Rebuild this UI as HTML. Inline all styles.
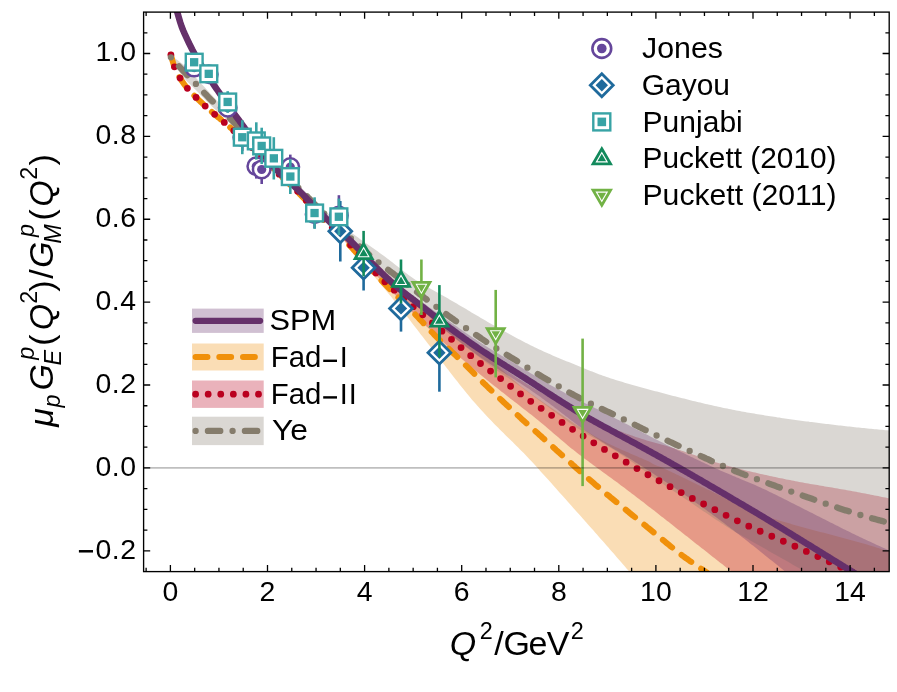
<!DOCTYPE html>
<html><head><meta charset="utf-8"><title>GE/GM ratio</title>
<style>html,body{margin:0;padding:0;background:#fff}svg{display:block;will-change:transform}text{font-family:"Liberation Sans",sans-serif;fill:#000}</style></head><body>
<svg width="897" height="692" viewBox="0 0 897 692">
<rect width="897" height="692" fill="#fff"/>
<defs><clipPath id="cp"><rect x="143.6" y="12.1" width="745.6" height="559.5"/></clipPath></defs>
<g clip-path="url(#cp)">
<path d="M340.0,236.0 L341.8,237.4 L343.7,238.8 L345.5,240.3 L347.3,241.8 L349.2,243.4 L351.0,245.0 L352.9,246.7 L354.7,248.5 L356.5,250.4 L358.4,252.3 L360.2,254.2 L362.0,256.1 L363.9,258.1 L365.7,260.1 L367.6,262.1 L369.4,264.0 L371.2,266.0 L373.1,267.9 L374.9,269.7 L376.7,271.5 L378.6,273.3 L380.4,275.0 L382.2,276.7 L384.1,278.2 L385.9,279.8 L387.8,281.3 L389.6,282.7 L391.4,284.1 L393.3,285.5 L395.1,286.8 L396.9,288.2 L398.8,289.5 L400.6,290.8 L402.5,292.1 L404.3,293.4 L406.1,294.7 L408.0,296.1 L409.8,297.5 L411.6,298.8 L413.5,300.3 L415.3,301.7 L417.1,303.2 L419.0,304.7 L420.8,306.2 L422.7,307.8 L424.5,309.3 L426.3,310.9 L428.2,312.5 L430.0,314.0 L431.8,315.5 L433.7,317.0 L435.5,318.4 L437.3,319.7 L439.2,321.0 L441.0,322.3 L442.9,323.5 L444.7,324.7 L446.5,325.8 L448.4,326.9 L450.2,328.0 L452.0,329.1 L453.9,330.3 L455.7,331.4 L457.6,332.6 L459.4,333.9 L461.2,335.1 L463.1,336.5 L464.9,337.8 L466.7,339.2 L468.6,340.6 L470.4,342.1 L472.2,343.6 L474.1,345.1 L475.9,346.7 L477.8,348.3 L479.6,349.8 L481.4,351.4 L483.3,353.0 L485.1,354.7 L486.9,356.3 L488.8,357.9 L490.6,359.5 L492.5,361.2 L494.3,362.8 L496.1,364.4 L498.0,366.1 L499.8,367.7 L501.6,369.4 L503.5,371.0 L505.3,372.7 L507.1,374.3 L509.0,376.0 L510.8,377.6 L512.7,379.2 L514.5,380.8 L516.3,382.3 L518.2,383.9 L520.0,385.4 L521.8,386.9 L523.7,388.3 L525.5,389.7 L527.4,391.1 L529.2,392.4 L531.0,393.7 L532.9,395.0 L534.7,396.3 L536.5,397.6 L538.4,398.9 L540.2,400.1 L542.0,401.4 L543.9,402.7 L545.7,403.9 L547.6,405.2 L549.4,406.5 L551.2,407.7 L553.1,409.0 L554.9,410.3 L556.7,411.5 L558.6,412.8 L560.4,414.1 L562.3,415.3 L564.1,416.6 L565.9,417.8 L567.8,419.0 L569.6,420.3 L571.4,421.5 L573.3,422.7 L575.1,423.9 L576.9,425.1 L578.8,426.3 L580.6,427.5 L582.5,428.6 L584.3,429.8 L586.1,431.0 L588.0,432.1 L589.8,433.2 L591.6,434.3 L593.5,435.4 L595.3,436.4 L597.2,437.5 L599.0,438.5 L600.8,439.5 L602.7,440.5 L604.5,441.5 L606.3,442.4 L608.2,443.4 L610.0,444.3 L611.8,445.2 L613.7,446.1 L615.5,446.9 L617.4,447.7 L619.2,448.6 L621.0,449.4 L622.9,450.2 L624.7,451.0 L626.5,451.8 L628.4,452.6 L630.2,453.4 L632.0,454.2 L633.9,455.0 L635.7,455.8 L637.6,456.6 L639.4,457.4 L641.2,458.1 L643.1,458.9 L644.9,459.7 L646.7,460.5 L648.6,461.3 L650.4,462.2 L652.3,463.4 L654.1,464.4 L655.9,465.2 L657.8,465.9 L659.6,466.4 L661.4,467.2 L663.3,468.0 L665.1,468.9 L666.9,469.8 L668.8,470.7 L670.6,471.5 L672.5,472.4 L674.3,473.3 L676.1,474.2 L678.0,475.1 L679.8,475.9 L681.6,476.8 L683.5,477.7 L685.3,478.6 L687.2,479.5 L689.0,480.4 L690.8,481.3 L692.7,482.2 L694.5,483.1 L696.3,484.0 L698.2,484.9 L700.0,485.8 L701.8,486.7 L703.7,487.6 L705.5,488.5 L707.4,489.4 L709.2,490.2 L711.0,491.1 L712.9,492.0 L714.7,492.9 L716.5,493.8 L718.4,494.7 L720.2,495.6 L722.1,496.6 L723.9,497.5 L725.7,498.4 L727.6,499.3 L729.4,500.2 L731.2,501.1 L733.1,502.0 L734.9,502.9 L736.7,503.8 L738.6,504.7 L740.4,505.5 L742.3,506.4 L744.1,507.3 L745.9,508.1 L747.8,508.9 L749.6,509.8 L751.4,510.6 L753.3,511.3 L755.1,512.1 L757.0,512.8 L758.8,513.5 L760.6,514.2 L762.5,514.9 L764.3,515.6 L766.1,516.2 L768.0,516.9 L769.8,517.5 L771.6,518.1 L773.5,518.7 L775.3,519.3 L777.2,519.8 L779.0,520.4 L780.8,521.0 L782.7,521.5 L784.5,522.0 L786.3,522.6 L788.2,523.1 L790.0,523.6 L791.9,524.2 L793.7,524.7 L795.5,525.2 L797.4,525.7 L799.2,526.2 L801.0,526.8 L802.9,527.3 L804.7,527.8 L806.5,528.3 L808.4,528.8 L810.2,529.3 L812.1,529.7 L813.9,530.2 L815.7,530.7 L817.6,531.2 L819.4,531.7 L821.2,532.2 L823.1,532.6 L824.9,533.1 L826.7,533.6 L828.6,534.1 L830.4,534.5 L832.3,535.0 L834.1,535.5 L835.9,536.0 L837.8,536.4 L839.6,536.9 L841.4,537.4 L843.3,537.9 L845.1,538.4 L847.0,538.9 L848.8,539.4 L850.6,539.9 L852.5,540.4 L854.3,540.9 L856.1,541.4 L858.0,541.9 L859.8,542.4 L861.6,543.0 L863.5,543.5 L865.3,544.1 L867.2,544.6 L869.0,545.2 L870.8,545.7 L872.7,546.3 L874.5,546.8 L876.3,547.4 L878.2,548.0 L880.0,548.6 L881.9,549.2 L883.7,549.7 L885.5,550.3 L887.4,550.9 L889.2,551.5 L889.2,596.0 L887.4,596.0 L885.5,596.0 L883.7,596.0 L881.9,596.0 L880.0,596.0 L878.2,596.0 L876.3,596.0 L874.5,596.0 L872.7,596.0 L870.8,596.0 L869.0,596.0 L867.2,596.0 L865.3,596.0 L863.5,596.0 L861.6,596.0 L859.8,596.0 L858.0,596.0 L856.1,596.0 L854.3,596.0 L852.5,596.0 L850.6,596.0 L848.8,596.0 L847.0,596.0 L845.1,596.0 L843.3,596.0 L841.4,596.0 L839.6,596.0 L837.8,596.0 L835.9,596.0 L834.1,596.0 L832.3,596.0 L830.4,596.0 L828.6,596.0 L826.7,596.0 L824.9,596.0 L823.1,596.0 L821.2,596.0 L819.4,596.0 L817.6,596.0 L815.7,596.0 L813.9,596.0 L812.1,596.0 L810.2,596.0 L808.4,596.0 L806.5,596.0 L804.7,596.0 L802.9,596.0 L801.0,596.0 L799.2,596.0 L797.4,596.0 L795.5,596.0 L793.7,596.0 L791.9,596.0 L790.0,596.0 L788.2,596.0 L786.3,596.0 L784.5,596.0 L782.7,596.0 L780.8,596.0 L779.0,596.0 L777.2,596.0 L775.3,596.0 L773.5,596.0 L771.6,596.0 L769.8,596.0 L768.0,596.0 L766.1,596.0 L764.3,596.0 L762.5,596.0 L760.6,596.0 L758.8,596.0 L757.0,596.0 L755.1,596.0 L753.3,596.0 L751.4,596.0 L749.6,596.0 L747.8,596.0 L745.9,596.0 L744.1,596.0 L742.3,596.0 L740.4,596.0 L738.6,596.0 L736.7,596.0 L734.9,596.0 L733.1,596.0 L731.2,596.0 L729.4,596.0 L727.6,596.0 L725.7,596.0 L723.9,596.0 L722.1,596.0 L720.2,596.0 L718.4,596.0 L716.5,596.0 L714.7,596.0 L712.9,596.0 L711.0,596.0 L709.2,596.0 L707.4,596.0 L705.5,596.0 L703.7,596.0 L701.8,596.0 L700.0,596.0 L698.2,596.0 L696.3,596.0 L694.5,596.0 L692.7,596.0 L690.8,596.0 L689.0,596.0 L687.2,596.0 L685.3,596.0 L683.5,596.0 L681.6,596.0 L679.8,596.0 L678.0,596.0 L676.1,596.0 L674.3,596.0 L672.5,596.0 L670.6,596.0 L668.8,596.0 L666.9,596.0 L665.1,596.0 L663.3,596.0 L661.4,596.0 L659.6,596.0 L657.8,596.0 L655.9,596.0 L654.1,596.0 L652.3,596.0 L650.4,596.0 L648.6,594.3 L646.7,592.2 L644.9,590.0 L643.1,587.8 L641.2,585.7 L639.4,583.5 L637.6,581.3 L635.7,579.2 L633.9,577.0 L632.0,574.9 L630.2,572.7 L628.4,570.6 L626.5,568.5 L624.7,566.3 L622.9,564.2 L621.0,562.1 L619.2,560.0 L617.4,557.9 L615.5,555.7 L613.7,553.6 L611.8,551.5 L610.0,549.4 L608.2,547.3 L606.3,545.2 L604.5,543.1 L602.7,541.0 L600.8,539.0 L599.0,536.9 L597.2,534.8 L595.3,532.7 L593.5,530.6 L591.6,528.5 L589.8,526.5 L588.0,524.4 L586.1,522.3 L584.3,520.2 L582.5,518.2 L580.6,516.1 L578.8,514.0 L576.9,512.0 L575.1,509.9 L573.3,507.9 L571.4,505.8 L569.6,503.7 L567.8,501.7 L565.9,499.6 L564.1,497.6 L562.3,495.5 L560.4,493.4 L558.6,491.4 L556.7,489.3 L554.9,487.3 L553.1,485.2 L551.2,483.1 L549.4,481.1 L547.6,479.0 L545.7,477.0 L543.9,474.9 L542.0,472.9 L540.2,470.9 L538.4,468.8 L536.5,466.8 L534.7,464.8 L532.9,462.8 L531.0,460.8 L529.2,458.9 L527.4,456.9 L525.5,455.0 L523.7,453.1 L521.8,451.2 L520.0,449.4 L518.2,447.5 L516.3,445.7 L514.5,443.9 L512.7,442.1 L510.8,440.3 L509.0,438.5 L507.1,436.7 L505.3,434.9 L503.5,433.1 L501.6,431.3 L499.8,429.4 L498.0,427.6 L496.1,425.8 L494.3,423.9 L492.5,422.0 L490.6,420.1 L488.8,418.2 L486.9,416.3 L485.1,414.3 L483.3,412.3 L481.4,410.3 L479.6,408.3 L477.8,406.2 L475.9,404.1 L474.1,402.0 L472.2,399.9 L470.4,397.7 L468.6,395.5 L466.7,393.3 L464.9,391.0 L463.1,388.8 L461.2,386.5 L459.4,384.2 L457.6,381.8 L455.7,379.5 L453.9,377.2 L452.0,374.8 L450.2,372.4 L448.4,370.1 L446.5,367.7 L444.7,365.3 L442.9,363.0 L441.0,360.6 L439.2,358.2 L437.3,355.8 L435.5,353.5 L433.7,351.1 L431.8,348.7 L430.0,346.3 L428.2,343.9 L426.3,341.6 L424.5,339.2 L422.7,336.8 L420.8,334.4 L419.0,332.0 L417.1,329.6 L415.3,327.2 L413.5,324.9 L411.6,322.5 L409.8,320.1 L408.0,317.8 L406.1,315.5 L404.3,313.1 L402.5,310.8 L400.6,308.5 L398.8,306.2 L396.9,303.9 L395.1,301.7 L393.3,299.4 L391.4,297.1 L389.6,294.9 L387.8,292.7 L385.9,290.4 L384.1,288.2 L382.2,286.0 L380.4,283.8 L378.6,281.6 L376.7,279.4 L374.9,277.2 L373.1,275.0 L371.2,272.9 L369.4,270.7 L367.6,268.5 L365.7,266.3 L363.9,264.2 L362.0,262.0 L360.2,259.8 L358.4,257.7 L356.5,255.5 L354.7,253.3 L352.9,251.2 L351.0,249.0 L349.2,246.8 L347.3,244.7 L345.5,242.5 L343.7,240.3 L341.8,238.2 L340.0,236.0 Z" fill="#f0900a" fill-opacity="0.3"/>
<path d="M340.0,231.0 L341.8,232.6 L343.7,234.2 L345.5,235.8 L347.3,237.4 L349.2,239.1 L351.0,240.7 L352.9,242.3 L354.7,243.9 L356.5,245.6 L358.4,247.2 L360.2,248.8 L362.0,250.5 L363.9,252.1 L365.7,253.8 L367.6,255.4 L369.4,257.1 L371.2,258.7 L373.1,260.4 L374.9,262.0 L376.7,263.7 L378.6,265.4 L380.4,267.0 L382.2,268.7 L384.1,270.4 L385.9,272.1 L387.8,273.8 L389.6,275.5 L391.4,277.2 L393.3,278.9 L395.1,280.6 L396.9,282.3 L398.8,284.0 L400.6,285.8 L402.5,287.5 L404.3,289.3 L406.1,291.0 L408.0,292.8 L409.8,294.6 L411.6,296.4 L413.5,298.1 L415.3,299.9 L417.1,301.7 L419.0,303.5 L420.8,305.3 L422.7,307.1 L424.5,308.8 L426.3,310.6 L428.2,312.3 L430.0,314.0 L431.8,315.7 L433.7,317.3 L435.5,319.0 L437.3,320.6 L439.2,322.2 L441.0,323.7 L442.9,325.2 L444.7,326.7 L446.5,328.2 L448.4,329.6 L450.2,331.0 L452.0,332.4 L453.9,333.8 L455.7,335.1 L457.6,336.4 L459.4,337.8 L461.2,339.1 L463.1,340.4 L464.9,341.6 L466.7,342.9 L468.6,344.2 L470.4,345.5 L472.2,346.7 L474.1,348.0 L475.9,349.3 L477.8,350.5 L479.6,351.8 L481.4,353.1 L483.3,354.3 L485.1,355.6 L486.9,356.9 L488.8,358.2 L490.6,359.5 L492.5,360.8 L494.3,362.1 L496.1,363.3 L498.0,364.6 L499.8,365.9 L501.6,367.2 L503.5,368.5 L505.3,369.7 L507.1,371.0 L509.0,372.2 L510.8,373.5 L512.7,374.7 L514.5,375.9 L516.3,377.2 L518.2,378.4 L520.0,379.6 L521.8,380.7 L523.7,381.9 L525.5,383.1 L527.4,384.2 L529.2,385.3 L531.0,386.5 L532.9,387.6 L534.7,388.7 L536.5,389.8 L538.4,390.9 L540.2,391.9 L542.0,393.0 L543.9,394.1 L545.7,395.1 L547.6,396.2 L549.4,397.2 L551.2,398.2 L553.1,399.3 L554.9,400.3 L556.7,401.3 L558.6,402.3 L560.4,403.3 L562.3,404.3 L564.1,405.3 L565.9,406.3 L567.8,407.2 L569.6,408.2 L571.4,409.1 L573.3,410.1 L575.1,411.0 L576.9,412.0 L578.8,412.9 L580.6,413.8 L582.5,414.7 L584.3,415.6 L586.1,416.5 L588.0,417.3 L589.8,418.2 L591.6,419.1 L593.5,419.9 L595.3,420.8 L597.2,421.6 L599.0,422.4 L600.8,423.2 L602.7,424.0 L604.5,424.8 L606.3,425.6 L608.2,426.4 L610.0,427.2 L611.8,427.9 L613.7,428.7 L615.5,429.4 L617.4,430.2 L619.2,430.9 L621.0,431.6 L622.9,432.3 L624.7,433.0 L626.5,433.7 L628.4,434.3 L630.2,435.0 L632.0,435.6 L633.9,436.3 L635.7,436.9 L637.6,437.5 L639.4,438.1 L641.2,438.7 L643.1,439.3 L644.9,439.8 L646.7,440.4 L648.6,440.9 L650.4,441.5 L652.3,442.0 L654.1,442.5 L655.9,443.0 L657.8,443.5 L659.6,444.1 L661.4,444.6 L663.3,445.1 L665.1,445.6 L666.9,446.1 L668.8,446.7 L670.6,447.2 L672.5,447.8 L674.3,448.3 L676.1,448.9 L678.0,449.5 L679.8,450.1 L681.6,450.7 L683.5,451.3 L685.3,451.9 L687.2,452.6 L689.0,453.2 L690.8,453.8 L692.7,454.5 L694.5,455.1 L696.3,455.8 L698.2,456.4 L700.0,457.1 L701.8,457.7 L703.7,458.3 L705.5,458.9 L707.4,459.6 L709.2,460.2 L711.0,460.8 L712.9,461.4 L714.7,461.9 L716.5,462.5 L718.4,463.0 L720.2,463.6 L722.1,464.1 L723.9,464.7 L725.7,465.2 L727.6,465.7 L729.4,466.2 L731.2,466.7 L733.1,467.2 L734.9,467.6 L736.7,468.1 L738.6,468.6 L740.4,469.1 L742.3,469.5 L744.1,470.0 L745.9,470.4 L747.8,470.9 L749.6,471.3 L751.4,471.7 L753.3,472.2 L755.1,472.6 L757.0,473.0 L758.8,473.4 L760.6,473.9 L762.5,474.3 L764.3,474.7 L766.1,475.1 L768.0,475.5 L769.8,475.9 L771.6,476.3 L773.5,476.7 L775.3,477.1 L777.2,477.5 L779.0,477.9 L780.8,478.2 L782.7,478.6 L784.5,479.0 L786.3,479.4 L788.2,479.7 L790.0,480.1 L791.9,480.5 L793.7,480.8 L795.5,481.2 L797.4,481.5 L799.2,481.9 L801.0,482.2 L802.9,482.6 L804.7,482.9 L806.5,483.2 L808.4,483.5 L810.2,483.9 L812.1,484.2 L813.9,484.5 L815.7,484.8 L817.6,485.1 L819.4,485.5 L821.2,485.8 L823.1,486.1 L824.9,486.4 L826.7,486.7 L828.6,487.0 L830.4,487.3 L832.3,487.6 L834.1,488.0 L835.9,488.3 L837.8,488.6 L839.6,488.9 L841.4,489.2 L843.3,489.5 L845.1,489.8 L847.0,490.2 L848.8,490.5 L850.6,490.8 L852.5,491.2 L854.3,491.5 L856.1,491.8 L858.0,492.2 L859.8,492.5 L861.6,492.9 L863.5,493.2 L865.3,493.6 L867.2,493.9 L869.0,494.3 L870.8,494.7 L872.7,495.0 L874.5,495.4 L876.3,495.8 L878.2,496.1 L880.0,496.5 L881.9,496.9 L883.7,497.3 L885.5,497.6 L887.4,498.0 L889.2,498.4 L889.2,594.0 L887.4,594.0 L885.5,594.0 L883.7,594.0 L881.9,594.0 L880.0,594.0 L878.2,594.0 L876.3,594.0 L874.5,594.0 L872.7,594.0 L870.8,594.0 L869.0,594.0 L867.2,594.0 L865.3,594.0 L863.5,594.0 L861.6,594.0 L859.8,594.0 L858.0,594.0 L856.1,594.0 L854.3,594.0 L852.5,594.0 L850.6,594.0 L848.8,594.0 L847.0,594.0 L845.1,594.0 L843.3,594.0 L841.4,594.0 L839.6,594.0 L837.8,594.0 L835.9,594.0 L834.1,594.0 L832.3,594.0 L830.4,594.0 L828.6,594.0 L826.7,594.0 L824.9,594.0 L823.1,594.0 L821.2,594.0 L819.4,594.0 L817.6,594.0 L815.7,594.0 L813.9,594.0 L812.1,594.0 L810.2,594.0 L808.4,594.0 L806.5,594.0 L804.7,594.0 L802.9,594.0 L801.0,594.0 L799.2,594.0 L797.4,594.0 L795.5,594.0 L793.7,594.0 L791.9,594.0 L790.0,594.0 L788.2,594.0 L786.3,594.0 L784.5,594.0 L782.7,594.0 L780.8,594.0 L779.0,594.0 L777.2,594.0 L775.3,594.0 L773.5,594.0 L771.6,594.0 L769.8,594.0 L768.0,594.0 L766.1,594.0 L764.3,594.0 L762.5,594.0 L760.6,594.0 L758.8,593.0 L757.0,591.6 L755.1,590.1 L753.3,588.7 L751.4,587.3 L749.6,585.8 L747.8,584.4 L745.9,582.9 L744.1,581.5 L742.3,580.0 L740.4,578.6 L738.6,577.1 L736.7,575.7 L734.9,574.2 L733.1,572.8 L731.2,571.3 L729.4,569.9 L727.6,568.4 L725.7,567.0 L723.9,565.5 L722.1,564.1 L720.2,562.7 L718.4,561.2 L716.5,559.8 L714.7,558.3 L712.9,556.9 L711.0,555.4 L709.2,554.0 L707.4,552.5 L705.5,551.1 L703.7,549.6 L701.8,548.2 L700.0,546.8 L698.2,545.3 L696.3,543.9 L694.5,542.4 L692.7,541.0 L690.8,539.5 L689.0,538.1 L687.2,536.6 L685.3,535.2 L683.5,533.7 L681.6,532.3 L679.8,530.8 L678.0,529.4 L676.1,527.9 L674.3,526.5 L672.5,525.0 L670.6,523.6 L668.8,522.1 L666.9,520.7 L665.1,519.3 L663.3,517.8 L661.4,516.4 L659.6,514.9 L657.8,513.5 L655.9,512.1 L654.1,510.6 L652.3,509.2 L650.4,507.8 L648.6,506.4 L646.7,504.9 L644.9,503.5 L643.1,502.1 L641.2,500.7 L639.4,499.3 L637.6,497.9 L635.7,496.5 L633.9,495.1 L632.0,493.7 L630.2,492.3 L628.4,490.9 L626.5,489.5 L624.7,488.1 L622.9,486.7 L621.0,485.4 L619.2,484.0 L617.4,482.6 L615.5,481.3 L613.7,479.9 L611.8,478.6 L610.0,477.2 L608.2,475.9 L606.3,474.5 L604.5,473.2 L602.7,471.9 L600.8,470.5 L599.0,469.2 L597.2,467.9 L595.3,466.5 L593.5,465.2 L591.6,463.8 L589.8,462.5 L588.0,461.1 L586.1,459.7 L584.3,458.4 L582.5,457.0 L580.6,455.6 L578.8,454.2 L576.9,452.7 L575.1,451.3 L573.3,449.8 L571.4,448.4 L569.6,446.9 L567.8,445.4 L565.9,443.8 L564.1,442.3 L562.3,440.8 L560.4,439.2 L558.6,437.6 L556.7,436.1 L554.9,434.5 L553.1,432.9 L551.2,431.3 L549.4,429.7 L547.6,428.2 L545.7,426.6 L543.9,425.1 L542.0,423.6 L540.2,422.0 L538.4,420.5 L536.5,419.0 L534.7,417.6 L532.9,416.1 L531.0,414.6 L529.2,413.2 L527.4,411.7 L525.5,410.3 L523.7,408.9 L521.8,407.4 L520.0,406.0 L518.2,404.6 L516.3,403.1 L514.5,401.7 L512.7,400.3 L510.8,398.9 L509.0,397.4 L507.1,396.0 L505.3,394.6 L503.5,393.1 L501.6,391.7 L499.8,390.2 L498.0,388.8 L496.1,387.3 L494.3,385.9 L492.5,384.4 L490.6,382.9 L488.8,381.4 L486.9,379.9 L485.1,378.5 L483.3,377.0 L481.4,375.5 L479.6,373.9 L477.8,372.4 L475.9,370.9 L474.1,369.4 L472.2,367.8 L470.4,366.3 L468.6,364.7 L466.7,363.1 L464.9,361.5 L463.1,360.0 L461.2,358.4 L459.4,356.8 L457.6,355.2 L455.7,353.5 L453.9,351.9 L452.0,350.3 L450.2,348.6 L448.4,346.9 L446.5,345.3 L444.7,343.6 L442.9,341.9 L441.0,340.2 L439.2,338.5 L437.3,336.8 L435.5,335.0 L433.7,333.3 L431.8,331.5 L430.0,329.8 L428.2,328.0 L426.3,326.2 L424.5,324.4 L422.7,322.6 L420.8,320.8 L419.0,319.0 L417.1,317.2 L415.3,315.4 L413.5,313.5 L411.6,311.7 L409.8,309.9 L408.0,308.0 L406.1,306.2 L404.3,304.3 L402.5,302.4 L400.6,300.6 L398.8,298.7 L396.9,296.8 L395.1,294.9 L393.3,293.0 L391.4,291.1 L389.6,289.2 L387.8,287.3 L385.9,285.4 L384.1,283.5 L382.2,281.6 L380.4,279.6 L378.6,277.7 L376.7,275.8 L374.9,273.8 L373.1,271.9 L371.2,269.9 L369.4,268.0 L367.6,266.0 L365.7,264.0 L363.9,262.1 L362.0,260.1 L360.2,258.1 L358.4,256.1 L356.5,254.1 L354.7,252.1 L352.9,250.1 L351.0,248.1 L349.2,246.1 L347.3,244.1 L345.5,242.1 L343.7,240.1 L341.8,238.0 L340.0,236.0 Z" fill="#ba001f" fill-opacity="0.3"/>
<path d="M170.9,56.0 L172.7,57.0 L174.5,58.1 L176.3,59.2 L178.1,60.5 L179.9,61.9 L181.7,63.3 L183.5,64.8 L185.3,66.4 L187.1,68.2 L188.9,70.1 L190.7,72.1 L192.5,74.1 L194.3,76.1 L196.1,78.0 L197.9,80.0 L199.7,81.9 L201.5,83.9 L203.3,85.8 L205.1,87.8 L206.9,89.8 L208.7,91.7 L210.5,93.7 L212.3,95.6 L214.1,97.5 L215.9,99.5 L217.7,101.4 L219.5,103.3 L221.3,105.2 L223.1,107.1 L224.9,109.1 L226.7,111.0 L228.5,112.9 L230.3,114.8 L232.1,116.7 L233.9,118.6 L235.7,120.6 L237.5,122.5 L239.3,124.4 L241.1,126.3 L242.9,128.3 L244.7,130.2 L246.5,132.1 L248.3,134.0 L250.1,135.9 L251.9,137.8 L253.7,139.7 L255.5,141.5 L257.3,143.4 L259.1,145.3 L260.9,147.1 L262.7,149.0 L264.5,150.8 L266.3,152.7 L268.1,154.5 L269.9,156.4 L271.7,158.2 L273.5,160.1 L275.3,161.9 L277.1,163.7 L278.9,165.6 L280.7,167.4 L282.5,169.2 L284.3,171.0 L286.1,172.8 L287.9,174.6 L289.7,176.4 L291.5,178.2 L293.3,180.0 L295.1,181.7 L296.9,183.5 L298.7,185.2 L300.5,187.0 L302.3,188.8 L304.1,190.5 L305.9,192.3 L307.7,194.0 L309.5,195.8 L311.3,197.5 L313.1,199.3 L314.9,201.0 L316.7,202.8 L318.5,204.5 L320.3,206.2 L322.1,207.9 L323.9,209.6 L325.7,211.2 L327.5,212.9 L329.3,214.5 L331.1,216.1 L332.9,217.7 L334.7,219.3 L336.5,220.8 L338.3,222.4 L340.1,223.9 L341.9,225.3 L343.7,226.8 L345.5,228.2 L347.3,229.6 L349.1,231.0 L350.9,232.3 L352.7,233.7 L354.5,235.0 L356.3,236.3 L358.1,237.6 L359.9,238.9 L361.7,240.2 L363.5,241.5 L365.3,242.7 L367.1,244.0 L368.9,245.3 L370.7,246.5 L372.5,247.8 L374.3,249.0 L376.1,250.3 L377.9,251.6 L379.7,252.9 L381.5,254.2 L383.3,255.5 L385.1,256.8 L386.9,258.2 L388.7,259.5 L390.5,260.9 L392.3,262.3 L394.1,263.7 L395.9,265.2 L397.7,266.6 L399.5,268.0 L401.3,269.4 L403.1,270.8 L404.9,272.2 L406.7,273.6 L408.5,274.9 L410.3,276.2 L412.1,277.5 L413.9,278.7 L415.7,279.9 L417.5,281.1 L419.3,282.3 L421.1,283.4 L422.9,284.5 L424.7,285.5 L426.5,286.6 L428.3,287.6 L430.1,288.6 L431.9,289.6 L433.7,290.6 L435.5,291.6 L437.3,292.6 L439.1,293.6 L440.9,294.6 L442.7,295.6 L444.5,296.6 L446.3,297.6 L448.1,298.6 L449.9,299.7 L451.7,300.7 L453.5,301.7 L455.3,302.8 L457.1,303.8 L458.9,304.9 L460.7,305.9 L462.5,307.0 L464.3,308.1 L466.1,309.1 L467.9,310.2 L469.7,311.3 L471.5,312.4 L473.3,313.4 L475.1,314.5 L476.9,315.6 L478.7,316.6 L480.5,317.7 L482.3,318.7 L484.1,319.8 L485.9,320.8 L487.7,321.9 L489.5,322.9 L491.3,323.9 L493.1,325.0 L494.9,326.0 L496.7,327.0 L498.5,328.0 L500.3,329.0 L502.1,330.0 L503.9,331.0 L505.7,332.0 L507.5,333.0 L509.3,334.0 L511.1,335.0 L512.9,336.0 L514.7,337.0 L516.5,337.9 L518.3,338.9 L520.1,339.8 L521.9,340.8 L523.7,341.7 L525.5,342.7 L527.3,343.6 L529.1,344.5 L531.0,345.4 L532.8,346.3 L534.6,347.2 L536.4,348.1 L538.2,348.9 L540.0,349.8 L541.8,350.6 L543.6,351.4 L545.4,352.3 L547.2,353.1 L549.0,353.8 L550.8,354.6 L552.6,355.4 L554.4,356.2 L556.2,356.9 L558.0,357.7 L559.8,358.4 L561.6,359.2 L563.4,359.9 L565.2,360.7 L567.0,361.4 L568.8,362.1 L570.6,362.8 L572.4,363.6 L574.2,364.3 L576.0,365.0 L577.8,365.8 L579.6,366.5 L581.4,367.2 L583.2,368.0 L585.0,368.7 L586.8,369.4 L588.6,370.2 L590.4,370.9 L592.2,371.6 L594.0,372.3 L595.8,373.0 L597.6,373.7 L599.4,374.4 L601.2,375.0 L603.0,375.7 L604.8,376.3 L606.6,377.0 L608.4,377.6 L610.2,378.2 L612.0,378.8 L613.8,379.3 L615.6,379.9 L617.4,380.5 L619.2,381.0 L621.0,381.6 L622.8,382.1 L624.6,382.7 L626.4,383.2 L628.2,383.7 L630.0,384.3 L631.8,384.8 L633.6,385.3 L635.4,385.8 L637.2,386.3 L639.0,386.8 L640.8,387.3 L642.6,387.8 L644.4,388.3 L646.2,388.8 L648.0,389.3 L649.8,389.7 L651.6,390.2 L653.4,390.7 L655.2,391.2 L657.0,391.6 L658.8,392.1 L660.6,392.6 L662.4,393.1 L664.2,393.5 L666.0,394.0 L667.8,394.5 L669.6,394.9 L671.4,395.4 L673.2,395.9 L675.0,396.3 L676.8,396.8 L678.6,397.3 L680.4,397.7 L682.2,398.2 L684.0,398.6 L685.8,399.1 L687.6,399.5 L689.4,400.0 L691.2,400.4 L693.0,400.9 L694.8,401.3 L696.6,401.8 L698.4,402.2 L700.2,402.6 L702.0,403.0 L703.8,403.5 L705.6,403.9 L707.4,404.3 L709.2,404.7 L711.0,405.1 L712.8,405.5 L714.6,405.9 L716.4,406.3 L718.2,406.7 L720.0,407.1 L721.8,407.5 L723.6,407.9 L725.4,408.3 L727.2,408.6 L729.0,409.0 L730.8,409.3 L732.6,409.7 L734.4,410.1 L736.2,410.4 L738.0,410.7 L739.8,411.1 L741.6,411.4 L743.4,411.7 L745.2,412.1 L747.0,412.4 L748.8,412.7 L750.6,413.0 L752.4,413.3 L754.2,413.6 L756.0,413.9 L757.8,414.2 L759.6,414.5 L761.4,414.8 L763.2,415.1 L765.0,415.4 L766.8,415.7 L768.6,416.0 L770.4,416.3 L772.2,416.5 L774.0,416.8 L775.8,417.1 L777.6,417.4 L779.4,417.6 L781.2,417.9 L783.0,418.2 L784.8,418.4 L786.6,418.7 L788.4,419.0 L790.2,419.2 L792.0,419.5 L793.8,419.7 L795.6,420.0 L797.4,420.2 L799.2,420.5 L801.0,420.7 L802.8,420.9 L804.6,421.2 L806.4,421.4 L808.2,421.6 L810.0,421.9 L811.8,422.1 L813.6,422.3 L815.4,422.6 L817.2,422.8 L819.0,423.0 L820.8,423.2 L822.6,423.5 L824.4,423.7 L826.2,423.9 L828.0,424.1 L829.8,424.3 L831.6,424.6 L833.4,424.8 L835.2,425.0 L837.0,425.2 L838.8,425.4 L840.6,425.6 L842.4,425.8 L844.2,426.0 L846.0,426.2 L847.8,426.4 L849.6,426.6 L851.4,426.8 L853.2,427.0 L855.0,427.2 L856.8,427.4 L858.6,427.6 L860.4,427.7 L862.2,427.9 L864.0,428.1 L865.8,428.3 L867.6,428.5 L869.4,428.7 L871.2,428.8 L873.0,429.0 L874.8,429.2 L876.6,429.3 L878.4,429.5 L880.2,429.7 L882.0,429.8 L883.8,430.0 L885.6,430.2 L887.4,430.3 L889.2,430.5 L889.2,615.1 L887.4,614.3 L885.6,613.6 L883.8,612.8 L882.0,612.1 L880.2,611.3 L878.4,610.5 L876.6,609.8 L874.8,609.0 L873.0,608.2 L871.2,607.3 L869.4,606.5 L867.6,605.7 L865.8,604.8 L864.0,604.0 L862.2,603.1 L860.4,602.2 L858.6,601.3 L856.8,600.4 L855.0,599.5 L853.2,598.5 L851.4,597.6 L849.6,596.6 L847.8,595.7 L846.0,594.7 L844.2,593.7 L842.4,592.7 L840.6,591.7 L838.8,590.7 L837.0,589.7 L835.2,588.8 L833.4,587.7 L831.6,586.7 L829.8,585.7 L828.0,584.7 L826.2,583.7 L824.4,582.7 L822.6,581.7 L820.8,580.7 L819.0,579.6 L817.2,578.6 L815.4,577.6 L813.6,576.6 L811.8,575.5 L810.0,574.5 L808.2,573.5 L806.4,572.4 L804.6,571.4 L802.8,570.3 L801.0,569.3 L799.2,568.3 L797.4,567.2 L795.6,566.2 L793.8,565.2 L792.0,564.2 L790.2,563.1 L788.4,562.1 L786.6,561.1 L784.8,560.1 L783.0,559.1 L781.2,558.0 L779.4,557.0 L777.6,556.0 L775.8,555.0 L774.0,554.0 L772.2,552.9 L770.4,551.9 L768.6,550.9 L766.8,549.8 L765.0,548.8 L763.2,547.8 L761.4,546.7 L759.6,545.7 L757.8,544.7 L756.0,543.7 L754.2,542.7 L752.4,541.7 L750.6,540.7 L748.8,539.6 L747.0,538.6 L745.2,537.6 L743.4,536.6 L741.6,535.6 L739.8,534.5 L738.0,533.5 L736.2,532.4 L734.4,531.4 L732.6,530.3 L730.8,529.2 L729.0,528.0 L727.2,526.9 L725.4,525.8 L723.6,524.6 L721.8,523.4 L720.0,522.3 L718.2,521.1 L716.4,519.9 L714.6,518.7 L712.8,517.5 L711.0,516.3 L709.2,515.1 L707.4,513.8 L705.6,512.6 L703.8,511.4 L702.0,510.2 L700.2,508.9 L698.4,507.7 L696.6,506.5 L694.8,505.3 L693.0,504.0 L691.2,502.8 L689.4,501.6 L687.6,500.4 L685.8,499.2 L684.0,498.0 L682.2,496.8 L680.4,495.6 L678.6,494.4 L676.8,493.2 L675.0,492.0 L673.2,490.8 L671.4,489.6 L669.6,488.4 L667.8,487.2 L666.0,486.0 L664.2,484.8 L662.4,483.5 L660.6,482.3 L658.8,481.1 L657.0,479.8 L655.2,478.5 L653.4,477.3 L651.6,476.0 L649.8,474.7 L648.0,473.4 L646.2,472.1 L644.4,470.8 L642.6,469.5 L640.8,468.2 L639.0,466.9 L637.2,465.7 L635.4,464.4 L633.6,463.1 L631.8,461.8 L630.0,460.5 L628.2,459.3 L626.4,458.0 L624.6,456.8 L622.8,455.6 L621.0,454.4 L619.2,453.2 L617.4,452.1 L615.6,450.9 L613.8,449.8 L612.0,448.7 L610.2,447.5 L608.4,446.4 L606.6,445.4 L604.8,444.3 L603.0,443.2 L601.2,442.2 L599.4,441.1 L597.6,440.1 L595.8,439.1 L594.0,438.0 L592.2,437.0 L590.4,436.0 L588.6,434.9 L586.8,433.9 L585.0,432.8 L583.2,431.7 L581.4,430.6 L579.6,429.5 L577.8,428.4 L576.0,427.2 L574.2,426.0 L572.4,424.7 L570.6,423.4 L568.8,422.2 L567.0,420.8 L565.2,419.5 L563.4,418.2 L561.6,416.8 L559.8,415.5 L558.0,414.2 L556.2,412.8 L554.4,411.5 L552.6,410.2 L550.8,408.9 L549.0,407.6 L547.2,406.3 L545.4,405.0 L543.6,403.6 L541.8,402.3 L540.0,401.0 L538.2,399.7 L536.4,398.3 L534.6,397.0 L532.8,395.6 L531.0,394.3 L529.1,392.9 L527.3,391.5 L525.5,390.2 L523.7,388.9 L521.9,387.5 L520.1,386.2 L518.3,384.9 L516.5,383.7 L514.7,382.4 L512.9,381.2 L511.1,380.0 L509.3,378.8 L507.5,377.6 L505.7,376.4 L503.9,375.3 L502.1,374.1 L500.3,372.9 L498.5,371.6 L496.7,370.4 L494.9,369.1 L493.1,367.8 L491.3,366.5 L489.5,365.1 L487.7,363.8 L485.9,362.4 L484.1,361.0 L482.3,359.6 L480.5,358.2 L478.7,356.8 L476.9,355.4 L475.1,354.0 L473.3,352.7 L471.5,351.3 L469.7,349.9 L467.9,348.6 L466.1,347.2 L464.3,345.8 L462.5,344.4 L460.7,343.0 L458.9,341.6 L457.1,340.1 L455.3,338.6 L453.5,337.1 L451.7,335.6 L449.9,334.1 L448.1,332.5 L446.3,330.9 L444.5,329.3 L442.7,327.6 L440.9,325.9 L439.1,324.2 L437.3,322.5 L435.5,320.8 L433.7,319.1 L431.9,317.3 L430.1,315.6 L428.3,313.9 L426.5,312.1 L424.7,310.4 L422.9,308.7 L421.1,307.0 L419.3,305.3 L417.5,303.7 L415.7,302.1 L413.9,300.5 L412.1,298.9 L410.3,297.4 L408.5,295.9 L406.7,294.4 L404.9,293.0 L403.1,291.6 L401.3,290.2 L399.5,288.9 L397.7,287.5 L395.9,286.2 L394.1,284.9 L392.3,283.6 L390.5,282.3 L388.7,280.9 L386.9,279.6 L385.1,278.2 L383.3,276.7 L381.5,275.3 L379.7,273.8 L377.9,272.2 L376.1,270.6 L374.3,268.9 L372.5,267.2 L370.7,265.4 L368.9,263.6 L367.1,261.8 L365.3,259.9 L363.5,258.0 L361.7,256.1 L359.9,254.2 L358.1,252.2 L356.3,250.3 L354.5,248.3 L352.7,246.4 L350.9,244.5 L349.1,242.5 L347.3,240.6 L345.5,238.8 L343.7,236.9 L341.9,235.1 L340.1,233.2 L338.3,231.4 L336.5,229.6 L334.7,227.9 L332.9,226.1 L331.1,224.3 L329.3,222.6 L327.5,220.8 L325.7,219.0 L323.9,217.2 L322.1,215.3 L320.3,213.5 L318.5,211.6 L316.7,209.7 L314.9,207.8 L313.1,205.9 L311.3,204.0 L309.5,202.1 L307.7,200.2 L305.9,198.3 L304.1,196.4 L302.3,194.6 L300.5,192.8 L298.7,191.0 L296.9,189.4 L295.1,187.8 L293.3,186.3 L291.5,184.8 L289.7,183.4 L287.9,182.0 L286.1,180.6 L284.3,179.1 L282.5,177.6 L280.7,176.1 L278.9,174.4 L277.1,172.7 L275.3,170.8 L273.5,168.8 L271.7,166.7 L269.9,164.5 L268.1,162.2 L266.3,159.9 L264.5,157.6 L262.7,155.3 L260.9,153.0 L259.1,150.7 L257.3,148.6 L255.5,146.6 L253.7,144.6 L251.9,142.8 L250.1,141.0 L248.3,139.2 L246.5,137.5 L244.7,135.9 L242.9,134.2 L241.1,132.6 L239.3,131.0 L237.5,129.4 L235.7,127.8 L233.9,126.1 L232.1,124.5 L230.3,122.8 L228.5,121.2 L226.7,119.6 L224.9,118.0 L223.1,116.4 L221.3,114.8 L219.5,113.2 L217.7,111.6 L215.9,110.0 L214.1,108.4 L212.3,106.7 L210.5,105.0 L208.7,103.3 L206.9,101.5 L205.1,99.7 L203.3,97.8 L201.5,95.9 L199.7,94.0 L197.9,92.1 L196.1,90.2 L194.3,88.4 L192.5,86.7 L190.7,85.0 L188.9,83.3 L187.1,81.5 L185.3,79.6 L183.5,77.5 L181.7,75.2 L179.9,72.7 L178.1,70.2 L176.3,67.5 L174.5,64.6 L172.7,61.7 L170.9,58.6 Z" fill="#857c6c" fill-opacity="0.3"/>
<path d="M340.0,230.5 L341.8,232.3 L343.7,234.1 L345.5,235.9 L347.3,237.7 L349.2,239.5 L351.0,241.3 L352.9,243.1 L354.7,244.9 L356.5,246.6 L358.4,248.4 L360.2,250.2 L362.0,251.9 L363.9,253.7 L365.7,255.4 L367.6,257.1 L369.4,258.9 L371.2,260.6 L373.1,262.3 L374.9,264.0 L376.7,265.8 L378.6,267.5 L380.4,269.1 L382.2,270.8 L384.1,272.5 L385.9,274.1 L387.8,275.8 L389.6,277.4 L391.4,278.9 L393.3,280.5 L395.1,282.0 L396.9,283.5 L398.8,285.0 L400.6,286.5 L402.5,287.9 L404.3,289.3 L406.1,290.7 L408.0,292.0 L409.8,293.3 L411.6,294.7 L413.5,296.0 L415.3,297.3 L417.1,298.6 L419.0,299.9 L420.8,301.2 L422.7,302.5 L424.5,303.8 L426.3,305.1 L428.2,306.5 L430.0,307.8 L431.8,309.1 L433.7,310.4 L435.5,311.7 L437.3,313.0 L439.2,314.3 L441.0,315.6 L442.9,316.9 L444.7,318.2 L446.5,319.5 L448.4,320.8 L450.2,322.0 L452.0,323.3 L453.9,324.6 L455.7,325.8 L457.6,327.1 L459.4,328.4 L461.2,329.6 L463.1,330.9 L464.9,332.2 L466.7,333.4 L468.6,334.7 L470.4,335.9 L472.2,337.2 L474.1,338.4 L475.9,339.6 L477.8,340.9 L479.6,342.1 L481.4,343.3 L483.3,344.4 L485.1,345.6 L486.9,346.8 L488.8,347.9 L490.6,349.0 L492.5,350.2 L494.3,351.3 L496.1,352.4 L498.0,353.5 L499.8,354.6 L501.6,355.7 L503.5,356.8 L505.3,357.9 L507.1,359.0 L509.0,360.1 L510.8,361.2 L512.7,362.3 L514.5,363.4 L516.3,364.5 L518.2,365.6 L520.0,366.7 L521.8,367.8 L523.7,368.9 L525.5,370.0 L527.4,371.1 L529.2,372.3 L531.0,373.4 L532.9,374.5 L534.7,375.6 L536.5,376.7 L538.4,377.8 L540.2,378.9 L542.0,380.0 L543.9,381.2 L545.7,382.2 L547.6,383.3 L549.4,384.4 L551.2,385.5 L553.1,386.5 L554.9,387.6 L556.7,388.6 L558.6,389.6 L560.4,390.6 L562.3,391.6 L564.1,392.6 L565.9,393.5 L567.8,394.5 L569.6,395.4 L571.4,396.4 L573.3,397.3 L575.1,398.2 L576.9,399.1 L578.8,400.1 L580.6,401.0 L582.5,401.9 L584.3,402.8 L586.1,403.7 L588.0,404.6 L589.8,405.5 L591.6,406.4 L593.5,407.3 L595.3,408.2 L597.2,409.1 L599.0,410.1 L600.8,411.0 L602.7,411.9 L604.5,412.8 L606.3,413.8 L608.2,414.7 L610.0,415.6 L611.8,416.6 L613.7,417.5 L615.5,418.4 L617.4,419.4 L619.2,420.3 L621.0,421.3 L622.9,422.2 L624.7,423.2 L626.5,424.1 L628.4,425.1 L630.2,426.0 L632.0,427.0 L633.9,428.0 L635.7,428.9 L637.6,429.9 L639.4,430.8 L641.2,431.8 L643.1,432.7 L644.9,433.7 L646.7,434.6 L648.6,435.6 L650.4,436.5 L652.3,437.5 L654.1,438.4 L655.9,439.3 L657.8,440.3 L659.6,441.2 L661.4,442.1 L663.3,443.1 L665.1,444.0 L666.9,444.9 L668.8,445.8 L670.6,446.7 L672.5,447.7 L674.3,448.6 L676.1,449.5 L678.0,450.4 L679.8,451.3 L681.6,452.2 L683.5,453.1 L685.3,454.0 L687.2,454.9 L689.0,455.8 L690.8,456.7 L692.7,457.6 L694.5,458.5 L696.3,459.3 L698.2,460.2 L700.0,461.1 L701.8,462.0 L703.7,462.8 L705.5,463.7 L707.4,464.6 L709.2,465.4 L711.0,466.2 L712.9,467.1 L714.7,467.9 L716.5,468.7 L718.4,469.6 L720.2,470.4 L722.1,471.2 L723.9,472.0 L725.7,472.8 L727.6,473.5 L729.4,474.3 L731.2,475.1 L733.1,475.9 L734.9,476.6 L736.7,477.4 L738.6,478.1 L740.4,478.9 L742.3,479.7 L744.1,480.4 L745.9,481.2 L747.8,482.0 L749.6,482.7 L751.4,483.5 L753.3,484.3 L755.1,485.1 L757.0,485.9 L758.8,486.8 L760.6,487.6 L762.5,488.4 L764.3,489.3 L766.1,490.1 L768.0,491.0 L769.8,491.9 L771.6,492.8 L773.5,493.7 L775.3,494.6 L777.2,495.5 L779.0,496.4 L780.8,497.3 L782.7,498.2 L784.5,499.2 L786.3,500.1 L788.2,501.0 L790.0,501.9 L791.9,502.9 L793.7,503.8 L795.5,504.7 L797.4,505.7 L799.2,506.6 L801.0,507.5 L802.9,508.4 L804.7,509.4 L806.5,510.3 L808.4,511.2 L810.2,512.2 L812.1,513.1 L813.9,514.0 L815.7,515.0 L817.6,515.9 L819.4,516.8 L821.2,517.8 L823.1,518.7 L824.9,519.6 L826.7,520.5 L828.6,521.5 L830.4,522.4 L832.3,523.3 L834.1,524.3 L835.9,525.2 L837.8,526.1 L839.6,527.0 L841.4,528.0 L843.3,528.9 L845.1,529.8 L847.0,530.7 L848.8,531.6 L850.6,532.5 L852.5,533.4 L854.3,534.3 L856.1,535.2 L858.0,536.1 L859.8,536.9 L861.6,537.8 L863.5,538.7 L865.3,539.6 L867.2,540.4 L869.0,541.3 L870.8,542.1 L872.7,543.0 L874.5,543.8 L876.3,544.7 L878.2,545.5 L880.0,546.3 L881.9,547.2 L883.7,548.0 L885.5,548.8 L887.4,549.7 L889.2,550.5 L889.2,592.0 L887.4,592.0 L885.5,592.0 L883.7,592.0 L881.9,592.0 L880.0,592.0 L878.2,592.0 L876.3,592.0 L874.5,592.0 L872.7,592.0 L870.8,592.0 L869.0,592.0 L867.2,592.0 L865.3,592.0 L863.5,592.0 L861.6,592.0 L859.8,592.0 L858.0,592.0 L856.1,592.0 L854.3,592.0 L852.5,592.0 L850.6,592.0 L848.8,592.0 L847.0,592.0 L845.1,592.0 L843.3,592.0 L841.4,592.0 L839.6,592.0 L837.8,592.0 L835.9,592.0 L834.1,592.0 L832.3,592.0 L830.4,592.0 L828.6,592.0 L826.7,592.0 L824.9,592.0 L823.1,592.0 L821.2,592.0 L819.4,592.0 L817.6,592.0 L815.7,592.0 L813.9,592.0 L812.1,592.0 L810.2,592.0 L808.4,590.7 L806.5,589.2 L804.7,587.7 L802.9,586.2 L801.0,584.7 L799.2,583.1 L797.4,581.6 L795.5,580.1 L793.7,578.6 L791.9,577.1 L790.0,575.6 L788.2,574.1 L786.3,572.6 L784.5,571.1 L782.7,569.6 L780.8,568.1 L779.0,566.6 L777.2,565.1 L775.3,563.6 L773.5,562.1 L771.6,560.6 L769.8,559.2 L768.0,557.7 L766.1,556.2 L764.3,554.7 L762.5,553.2 L760.6,551.7 L758.8,550.2 L757.0,548.8 L755.1,547.3 L753.3,545.8 L751.4,544.4 L749.6,542.9 L747.8,541.5 L745.9,540.0 L744.1,538.6 L742.3,537.2 L740.4,535.7 L738.6,534.3 L736.7,532.9 L734.9,531.5 L733.1,530.1 L731.2,528.7 L729.4,527.3 L727.6,525.9 L725.7,524.5 L723.9,523.1 L722.1,521.7 L720.2,520.3 L718.4,519.0 L716.5,517.6 L714.7,516.3 L712.9,514.9 L711.0,513.6 L709.2,512.2 L707.4,510.9 L705.5,509.5 L703.7,508.2 L701.8,506.9 L700.0,505.6 L698.2,504.3 L696.3,503.0 L694.5,501.7 L692.7,500.4 L690.8,499.1 L689.0,497.8 L687.2,496.5 L685.3,495.3 L683.5,494.0 L681.6,492.7 L679.8,491.5 L678.0,490.2 L676.1,489.0 L674.3,487.7 L672.5,486.5 L670.6,485.2 L668.8,484.0 L666.9,482.8 L665.1,481.5 L663.3,480.3 L661.4,479.1 L659.6,477.9 L657.8,476.7 L655.9,475.4 L654.1,474.2 L652.3,473.0 L650.4,471.8 L648.6,470.6 L646.7,469.4 L644.9,468.3 L643.1,467.1 L641.2,465.9 L639.4,464.7 L637.6,463.6 L635.7,462.4 L633.9,461.3 L632.0,460.1 L630.2,459.0 L628.4,457.8 L626.5,456.7 L624.7,455.6 L622.9,454.5 L621.0,453.4 L619.2,452.2 L617.4,451.1 L615.5,450.0 L613.7,448.9 L611.8,447.8 L610.0,446.7 L608.2,445.6 L606.3,444.4 L604.5,443.3 L602.7,442.2 L600.8,441.0 L599.0,439.8 L597.2,438.7 L595.3,437.5 L593.5,436.3 L591.6,435.0 L589.8,433.8 L588.0,432.5 L586.1,431.2 L584.3,430.0 L582.5,428.6 L580.6,427.3 L578.8,426.0 L576.9,424.6 L575.1,423.2 L573.3,421.8 L571.4,420.4 L569.6,419.0 L567.8,417.6 L565.9,416.2 L564.1,414.8 L562.3,413.4 L560.4,411.9 L558.6,410.5 L556.7,409.1 L554.9,407.7 L553.1,406.3 L551.2,405.0 L549.4,403.6 L547.6,402.2 L545.7,400.9 L543.9,399.5 L542.0,398.2 L540.2,396.8 L538.4,395.5 L536.5,394.2 L534.7,392.9 L532.9,391.7 L531.0,390.4 L529.2,389.1 L527.4,387.9 L525.5,386.7 L523.7,385.5 L521.8,384.3 L520.0,383.1 L518.2,381.9 L516.3,380.7 L514.5,379.6 L512.7,378.4 L510.8,377.2 L509.0,376.1 L507.1,374.9 L505.3,373.7 L503.5,372.6 L501.6,371.4 L499.8,370.2 L498.0,369.0 L496.1,367.9 L494.3,366.7 L492.5,365.5 L490.6,364.2 L488.8,363.0 L486.9,361.8 L485.1,360.5 L483.3,359.3 L481.4,358.0 L479.6,356.7 L477.8,355.4 L475.9,354.0 L474.1,352.7 L472.2,351.3 L470.4,350.0 L468.6,348.6 L466.7,347.2 L464.9,345.8 L463.1,344.4 L461.2,343.0 L459.4,341.6 L457.6,340.2 L455.7,338.7 L453.9,337.3 L452.0,335.9 L450.2,334.4 L448.4,332.9 L446.5,331.5 L444.7,330.0 L442.9,328.5 L441.0,326.9 L439.2,325.4 L437.3,323.8 L435.5,322.3 L433.7,320.7 L431.8,319.1 L430.0,317.5 L428.2,315.8 L426.3,314.2 L424.5,312.6 L422.7,310.9 L420.8,309.3 L419.0,307.6 L417.1,306.0 L415.3,304.3 L413.5,302.6 L411.6,301.0 L409.8,299.3 L408.0,297.7 L406.1,296.0 L404.3,294.3 L402.5,292.6 L400.6,291.0 L398.8,289.3 L396.9,287.6 L395.1,285.9 L393.3,284.2 L391.4,282.4 L389.6,280.7 L387.8,279.0 L385.9,277.2 L384.1,275.5 L382.2,273.7 L380.4,272.0 L378.6,270.2 L376.7,268.5 L374.9,266.7 L373.1,264.9 L371.2,263.1 L369.4,261.3 L367.6,259.5 L365.7,257.7 L363.9,255.8 L362.0,254.0 L360.2,252.2 L358.4,250.3 L356.5,248.5 L354.7,246.6 L352.9,244.7 L351.0,242.9 L349.2,241.0 L347.3,239.1 L345.5,237.2 L343.7,235.3 L341.8,233.4 L340.0,231.5 Z" fill="#65306a" fill-opacity="0.3"/>
<path d="M170.9,54.8 L172.4,60.5 L173.9,65.5 L175.4,69.4 L176.9,72.5 L178.4,75.3 L179.9,77.8 L181.4,80.2 L182.9,82.4 L184.4,84.5 L185.9,86.5 L187.4,88.3 L188.9,90.1 L190.4,91.7 L191.9,93.3 L193.4,94.8 L194.9,96.2 L196.4,97.7 L197.9,99.2 L199.4,100.6 L200.9,102.0 L202.4,103.4 L203.9,104.8 L205.4,106.2 L206.9,107.6 L208.4,108.9 L209.9,110.2 L211.4,111.5 L212.9,112.8 L214.4,114.1 L215.9,115.4 L217.4,116.6 L218.9,117.8 L220.4,119.1 L221.9,120.3 L223.4,121.5 L224.9,122.8 L226.4,124.1 L227.9,125.4 L229.4,126.7 L230.9,128.0 L232.4,129.3 L233.9,130.7 L235.4,132.0 L236.9,133.4 L238.4,134.7 L239.9,136.1 L241.3,137.5 L242.8,138.8 L244.3,140.2 L245.8,141.6 L247.3,142.9 L248.8,144.3 L250.3,145.7 L251.8,147.1 L253.3,148.5 L254.8,150.0 L256.3,151.4 L257.8,152.8 L259.3,154.3 L260.8,155.8 L262.3,157.3 L263.8,158.8 L265.3,160.3 L266.8,161.8 L268.3,163.3 L269.8,164.9 L271.3,166.4 L272.8,167.9 L274.3,169.4 L275.8,170.9 L277.3,172.4 L278.8,173.9 L280.3,175.4 L281.8,176.8 L283.3,178.2 L284.8,179.7 L286.3,181.1 L287.8,182.5 L289.3,183.9 L290.8,185.3 L292.3,186.7 L293.8,188.1 L295.3,189.6 L296.8,191.0 L298.3,192.5 L299.8,194.1 L301.3,195.6 L302.8,197.2 L304.3,198.8 L305.8,200.4 L307.3,202.0 L308.8,203.7 L310.3,205.3 L311.8,207.0 L313.3,208.6 L314.8,210.3 L316.3,212.0 L317.8,213.6 L319.3,215.2 L320.8,216.9 L322.3,218.4 L323.8,220.0 L325.3,221.6 L326.8,223.1 L328.3,224.6 L329.8,226.1 L331.3,227.6 L332.8,229.0 L334.3,230.5 L335.8,231.9 L337.3,233.4 L338.8,234.8 L340.3,236.2 L341.8,237.7 L343.3,239.2 L344.8,240.6 L346.3,242.1 L347.8,243.7 L349.3,245.2 L350.8,246.7 L352.3,248.3 L353.8,249.9 L355.3,251.6 L356.8,253.2 L358.3,254.8 L359.8,256.5 L361.3,258.2 L362.8,259.9 L364.3,261.6 L365.8,263.3 L367.3,265.0 L368.8,266.6 L370.3,268.3 L371.8,270.0 L373.3,271.7 L374.8,273.3 L376.3,275.0 L377.8,276.6 L379.3,278.2 L380.7,279.8 L382.2,281.3 L383.7,282.9 L385.2,284.4 L386.7,285.9 L388.2,287.5 L389.7,288.9 L391.2,290.4 L392.7,291.9 L394.2,293.4 L395.7,294.9 L397.2,296.3 L398.7,297.8 L400.2,299.3 L401.7,300.7 L403.2,302.2 L404.7,303.7 L406.2,305.2 L407.7,306.7 L409.2,308.2 L410.7,309.7 L412.2,311.3 L413.7,312.8 L415.2,314.4 L416.7,316.0 L418.2,317.5 L419.7,319.1 L421.2,320.7 L422.7,322.3 L424.2,324.0 L425.7,325.6 L427.2,327.2 L428.7,328.8 L430.2,330.4 L431.7,332.0 L433.2,333.5 L434.7,335.1 L436.2,336.6 L437.7,338.1 L439.2,339.6 L440.7,341.1 L442.2,342.6 L443.7,344.0 L445.2,345.5 L446.7,346.9 L448.2,348.3 L449.7,349.7 L451.2,351.2 L452.7,352.6 L454.2,354.0 L455.7,355.4 L457.2,356.9 L458.7,358.3 L460.2,359.8 L461.7,361.3 L463.2,362.7 L464.7,364.2 L466.2,365.7 L467.7,367.2 L469.2,368.7 L470.7,370.2 L472.2,371.7 L473.7,373.2 L475.2,374.7 L476.7,376.2 L478.2,377.7 L479.7,379.1 L481.2,380.6 L482.7,382.1 L484.2,383.6 L485.7,385.0 L487.2,386.5 L488.7,388.0 L490.2,389.4 L491.7,390.8 L493.2,392.3 L494.7,393.7 L496.2,395.1 L497.7,396.6 L499.2,398.0 L500.7,399.4 L502.2,400.8 L503.7,402.2 L505.2,403.6 L506.7,405.0 L508.2,406.4 L509.7,407.8 L511.2,409.2 L512.7,410.6 L514.2,412.0 L515.7,413.4 L517.2,414.8 L518.7,416.1 L520.2,417.5 L521.6,418.9 L523.1,420.2 L524.6,421.6 L526.1,422.9 L527.6,424.3 L529.1,425.6 L530.6,427.0 L532.1,428.3 L533.6,429.6 L535.1,431.0 L536.6,432.3 L538.1,433.6 L539.6,435.0 L541.1,436.3 L542.6,437.7 L544.1,439.0 L545.6,440.4 L547.1,441.7 L548.6,443.1 L550.1,444.4 L551.6,445.8 L553.1,447.2 L554.6,448.5 L556.1,449.9 L557.6,451.2 L559.1,452.6 L560.6,453.9 L562.1,455.3 L563.6,456.6 L565.1,458.0 L566.6,459.3 L568.1,460.7 L569.6,462.0 L571.1,463.3 L572.6,464.7 L574.1,466.0 L575.6,467.4 L577.1,468.7 L578.6,470.0 L580.1,471.3 L581.6,472.7 L583.1,474.0 L584.6,475.3 L586.1,476.6 L587.6,477.9 L589.1,479.2 L590.6,480.5 L592.1,481.8 L593.6,483.1 L595.1,484.4 L596.6,485.7 L598.1,486.9 L599.6,488.2 L601.1,489.5 L602.6,490.7 L604.1,492.0 L605.6,493.2 L607.1,494.5 L608.6,495.7 L610.1,496.9 L611.6,498.2 L613.1,499.4 L614.6,500.6 L616.1,501.9 L617.6,503.1 L619.1,504.3 L620.6,505.5 L622.1,506.8 L623.6,508.0 L625.1,509.2 L626.6,510.4 L628.1,511.6 L629.6,512.9 L631.1,514.1 L632.6,515.3 L634.1,516.5 L635.6,517.7 L637.1,519.0 L638.6,520.2 L640.1,521.4 L641.6,522.6 L643.1,523.8 L644.6,525.0 L646.1,526.2 L647.6,527.5 L649.1,528.7 L650.6,529.9 L652.1,531.1 L653.6,532.3 L655.1,533.5 L656.6,534.7 L658.1,535.9 L659.6,537.2 L661.0,538.4 L662.5,539.6 L664.0,540.8 L665.5,542.1 L667.0,543.3 L668.5,544.5 L670.0,545.8 L671.5,547.0 L673.0,548.2 L674.5,549.4 L676.0,550.6 L677.5,551.8 L679.0,553.0 L680.5,554.1 L682.0,555.3 L683.5,556.4 L685.0,557.5 L686.5,558.6 L688.0,559.6 L689.5,560.7 L691.0,561.7 L692.5,562.8 L694.0,563.8 L695.5,564.8 L697.0,565.8 L698.5,566.9 L700.0,567.9 L701.5,568.9 L703.0,570.0 L704.5,571.0 L706.0,572.1 L707.5,573.1 L709.0,574.2 L710.5,575.3 L712.0,576.4 L713.5,577.5 L715.0,578.6 L716.5,579.7 L718.0,580.8 L719.5,582.0 L721.0,583.1 L722.5,584.2 L724.0,585.4 L725.5,586.5 L727.0,587.7 L728.5,588.9 L730.0,590.0" fill="none" stroke="#f0900a" stroke-width="6.0" stroke-linecap="round" stroke-linejoin="round" stroke-dasharray="11.97 11.97"/>
<path d="M170.9,54.8 L172.4,60.5 L173.9,65.5 L175.4,69.4 L176.9,72.5 L178.4,75.3 L179.9,77.8 L181.4,80.2 L182.9,82.4 L184.4,84.5 L185.9,86.5 L187.4,88.3 L188.9,90.1 L190.4,91.7 L191.9,93.2 L193.4,94.7 L194.9,96.2 L196.4,97.7 L197.9,99.1 L199.4,100.6 L200.9,102.0 L202.4,103.4 L203.9,104.8 L205.4,106.2 L206.9,107.5 L208.4,108.9 L209.8,110.2 L211.3,111.5 L212.8,112.8 L214.3,114.1 L215.8,115.3 L217.3,116.6 L218.8,117.8 L220.3,119.0 L221.8,120.3 L223.3,121.5 L224.8,122.8 L226.3,124.1 L227.8,125.4 L229.3,126.7 L230.8,128.0 L232.3,129.3 L233.8,130.6 L235.3,132.0 L236.8,133.3 L238.3,134.7 L239.8,136.1 L241.3,137.4 L242.8,138.8 L244.3,140.2 L245.8,141.5 L247.3,142.9 L248.8,144.3 L250.3,145.7 L251.8,147.1 L253.3,148.5 L254.8,149.9 L256.3,151.4 L257.8,152.8 L259.3,154.3 L260.8,155.7 L262.3,157.2 L263.8,158.7 L265.3,160.3 L266.8,161.8 L268.3,163.3 L269.8,164.8 L271.3,166.4 L272.8,167.9 L274.3,169.4 L275.8,170.9 L277.3,172.4 L278.8,173.9 L280.3,175.3 L281.8,176.7 L283.3,178.1 L284.8,179.5 L286.2,180.8 L287.7,182.2 L289.2,183.6 L290.7,184.9 L292.2,186.3 L293.7,187.7 L295.2,189.1 L296.7,190.5 L298.2,192.0 L299.7,193.5 L301.2,195.0 L302.7,196.6 L304.2,198.2 L305.7,199.8 L307.2,201.4 L308.7,203.1 L310.2,204.7 L311.7,206.4 L313.2,208.1 L314.7,209.7 L316.2,211.4 L317.7,213.0 L319.2,214.7 L320.7,216.3 L322.2,217.9 L323.7,219.4 L325.2,220.9 L326.7,222.4 L328.2,223.9 L329.7,225.3 L331.2,226.8 L332.7,228.2 L334.2,229.5 L335.7,230.9 L337.2,232.3 L338.7,233.7 L340.2,235.1 L341.7,236.5 L343.2,237.9 L344.7,239.3 L346.2,240.8 L347.7,242.3 L349.2,243.8 L350.7,245.3 L352.2,246.9 L353.7,248.5 L355.2,250.1 L356.7,251.7 L358.2,253.4 L359.7,255.1 L361.2,256.8 L362.6,258.5 L364.1,260.2 L365.6,261.9 L367.1,263.5 L368.6,265.2 L370.1,266.9 L371.6,268.5 L373.1,270.1 L374.6,271.7 L376.1,273.3 L377.6,274.8 L379.1,276.3 L380.6,277.8 L382.1,279.2 L383.6,280.7 L385.1,282.1 L386.6,283.4 L388.1,284.8 L389.6,286.1 L391.1,287.4 L392.6,288.7 L394.1,290.0 L395.6,291.3 L397.1,292.6 L398.6,293.9 L400.1,295.1 L401.6,296.4 L403.1,297.7 L404.6,299.0 L406.1,300.3 L407.6,301.7 L409.1,303.0 L410.6,304.3 L412.1,305.6 L413.6,306.9 L415.1,308.2 L416.6,309.5 L418.1,310.9 L419.6,312.2 L421.1,313.5 L422.6,314.7 L424.1,316.0 L425.6,317.3 L427.1,318.6 L428.6,319.9 L430.1,321.1 L431.6,322.4 L433.1,323.6 L434.6,324.9 L436.1,326.2 L437.6,327.4 L439.0,328.7 L440.5,330.0 L442.0,331.2 L443.5,332.5 L445.0,333.8 L446.5,335.0 L448.0,336.3 L449.5,337.6 L451.0,338.9 L452.5,340.2 L454.0,341.5 L455.5,342.7 L457.0,344.0 L458.5,345.3 L460.0,346.6 L461.5,347.9 L463.0,349.2 L464.5,350.4 L466.0,351.7 L467.5,353.0 L469.0,354.2 L470.5,355.5 L472.0,356.7 L473.5,357.9 L475.0,359.2 L476.5,360.4 L478.0,361.6 L479.5,362.7 L481.0,363.9 L482.5,365.1 L484.0,366.2 L485.5,367.3 L487.0,368.5 L488.5,369.6 L490.0,370.7 L491.5,371.8 L493.0,372.9 L494.5,374.1 L496.0,375.2 L497.5,376.3 L499.0,377.4 L500.5,378.5 L502.0,379.7 L503.5,380.8 L505.0,381.9 L506.5,383.1 L508.0,384.2 L509.5,385.4 L511.0,386.6 L512.5,387.7 L514.0,388.9 L515.5,390.0 L516.9,391.2 L518.4,392.3 L519.9,393.5 L521.4,394.6 L522.9,395.7 L524.4,396.8 L525.9,397.9 L527.4,399.0 L528.9,400.0 L530.4,401.1 L531.9,402.1 L533.4,403.2 L534.9,404.2 L536.4,405.2 L537.9,406.2 L539.4,407.2 L540.9,408.2 L542.4,409.2 L543.9,410.2 L545.4,411.2 L546.9,412.2 L548.4,413.2 L549.9,414.2 L551.4,415.2 L552.9,416.2 L554.4,417.2 L555.9,418.3 L557.4,419.3 L558.9,420.3 L560.4,421.3 L561.9,422.3 L563.4,423.3 L564.9,424.3 L566.4,425.2 L567.9,426.2 L569.4,427.2 L570.9,428.2 L572.4,429.2 L573.9,430.1 L575.4,431.1 L576.9,432.1 L578.4,433.0 L579.9,434.0 L581.4,434.9 L582.9,435.9 L584.4,436.9 L585.9,437.8 L587.4,438.8 L588.9,439.7 L590.4,440.6 L591.9,441.6 L593.3,442.5 L594.8,443.4 L596.3,444.4 L597.8,445.3 L599.3,446.2 L600.8,447.1 L602.3,448.1 L603.8,449.0 L605.3,449.9 L606.8,450.8 L608.3,451.7 L609.8,452.6 L611.3,453.5 L612.8,454.3 L614.3,455.2 L615.8,456.1 L617.3,457.0 L618.8,457.9 L620.3,458.8 L621.8,459.7 L623.3,460.5 L624.8,461.4 L626.3,462.3 L627.8,463.2 L629.3,464.1 L630.8,465.0 L632.3,465.8 L633.8,466.7 L635.3,467.6 L636.8,468.5 L638.3,469.3 L639.8,470.2 L641.3,471.1 L642.8,471.9 L644.3,472.8 L645.8,473.6 L647.3,474.4 L648.8,475.3 L650.3,476.1 L651.8,476.9 L653.3,477.7 L654.8,478.5 L656.3,479.3 L657.8,480.1 L659.3,480.9 L660.8,481.7 L662.3,482.5 L663.8,483.3 L665.3,484.1 L666.8,484.9 L668.3,485.7 L669.7,486.5 L671.2,487.3 L672.7,488.0 L674.2,488.8 L675.7,489.6 L677.2,490.4 L678.7,491.2 L680.2,492.0 L681.7,492.8 L683.2,493.6 L684.7,494.4 L686.2,495.2 L687.7,496.0 L689.2,496.8 L690.7,497.5 L692.2,498.3 L693.7,499.1 L695.2,499.8 L696.7,500.6 L698.2,501.3 L699.7,502.1 L701.2,502.8 L702.7,503.6 L704.2,504.3 L705.7,505.1 L707.2,505.8 L708.7,506.6 L710.2,507.3 L711.7,508.1 L713.2,508.8 L714.7,509.6 L716.2,510.3 L717.7,511.1 L719.2,511.8 L720.7,512.6 L722.2,513.3 L723.7,514.1 L725.2,514.9 L726.7,515.6 L728.2,516.4 L729.7,517.1 L731.2,517.9 L732.7,518.6 L734.2,519.3 L735.7,520.1 L737.2,520.8 L738.7,521.5 L740.2,522.2 L741.7,522.9 L743.2,523.6 L744.7,524.3 L746.1,525.0 L747.6,525.6 L749.1,526.3 L750.6,527.0 L752.1,527.7 L753.6,528.3 L755.1,529.0 L756.6,529.6 L758.1,530.3 L759.6,531.0 L761.1,531.6 L762.6,532.3 L764.1,532.9 L765.6,533.6 L767.1,534.2 L768.6,534.9 L770.1,535.5 L771.6,536.2 L773.1,536.8 L774.6,537.5 L776.1,538.1 L777.6,538.8 L779.1,539.4 L780.6,540.1 L782.1,540.7 L783.6,541.4 L785.1,542.0 L786.6,542.7 L788.1,543.3 L789.6,544.0 L791.1,544.6 L792.6,545.3 L794.1,545.9 L795.6,546.6 L797.1,547.3 L798.6,547.9 L800.1,548.6 L801.6,549.2 L803.1,549.9 L804.6,550.6 L806.1,551.3 L807.6,551.9 L809.1,552.6 L810.6,553.3 L812.1,553.9 L813.6,554.6 L815.1,555.3 L816.6,556.0 L818.1,556.7 L819.6,557.3 L821.1,558.0 L822.5,558.7 L824.0,559.4 L825.5,560.1 L827.0,560.7 L828.5,561.4 L830.0,562.1 L831.5,562.8 L833.0,563.5 L834.5,564.1 L836.0,564.8 L837.5,565.5 L839.0,566.2 L840.5,566.9 L842.0,567.5 L843.5,568.2 L845.0,568.9 L846.5,569.6 L848.0,570.2 L849.5,570.9 L851.0,571.6 L852.5,572.2 L854.0,572.9 L855.5,573.6 L857.0,574.3 L858.5,574.9 L860.0,575.6" fill="none" stroke="#ba001f" stroke-width="6.8" stroke-linecap="round" stroke-linejoin="round" stroke-dasharray="0 12.58"/>
<path d="M170.9,57.3 L172.4,59.0 L173.9,60.7 L175.4,62.4 L176.9,64.0 L178.4,65.7 L179.9,67.3 L181.4,68.9 L182.9,70.5 L184.4,72.1 L185.9,73.7 L187.4,75.2 L188.9,76.7 L190.4,78.2 L191.9,79.8 L193.4,81.3 L194.9,82.9 L196.4,84.4 L197.9,86.0 L199.4,87.6 L200.9,89.2 L202.4,90.8 L203.9,92.5 L205.4,94.1 L206.9,95.6 L208.4,97.2 L209.9,98.7 L211.4,100.2 L212.9,101.7 L214.4,103.2 L215.9,104.7 L217.4,106.2 L218.9,107.7 L220.4,109.1 L221.9,110.6 L223.4,112.1 L224.9,113.5 L226.4,115.0 L227.9,116.4 L229.4,117.9 L230.9,119.4 L232.4,120.9 L233.9,122.4 L235.4,123.8 L236.9,125.3 L238.4,126.8 L239.9,128.3 L241.4,129.7 L242.9,131.2 L244.4,132.7 L245.9,134.2 L247.4,135.7 L248.9,137.2 L250.4,138.7 L251.9,140.2 L253.4,141.8 L254.9,143.4 L256.4,145.0 L257.9,146.6 L259.4,148.3 L260.9,150.0 L262.4,151.7 L263.9,153.5 L265.4,155.2 L266.9,156.9 L268.4,158.7 L269.9,160.4 L271.4,162.1 L272.9,163.7 L274.4,165.4 L275.9,166.9 L277.4,168.5 L278.9,170.0 L280.4,171.4 L281.9,172.8 L283.4,174.2 L284.9,175.6 L286.4,176.9 L287.9,178.2 L289.4,179.6 L290.9,180.9 L292.4,182.3 L293.9,183.6 L295.4,185.0 L296.9,186.4 L298.4,187.8 L299.9,189.3 L301.4,190.7 L302.9,192.2 L304.4,193.7 L305.9,195.2 L307.4,196.7 L308.9,198.3 L310.4,199.8 L311.9,201.3 L313.4,202.8 L314.9,204.4 L316.4,205.9 L317.9,207.4 L319.4,208.9 L320.9,210.4 L322.4,211.9 L323.9,213.3 L325.4,214.8 L326.9,216.2 L328.4,217.6 L329.9,219.0 L331.4,220.5 L332.9,221.9 L334.4,223.2 L335.9,224.6 L337.4,226.0 L338.9,227.4 L340.4,228.8 L341.9,230.1 L343.4,231.5 L344.9,232.9 L346.4,234.2 L347.9,235.6 L349.4,237.0 L350.8,238.3 L352.3,239.7 L353.8,241.0 L355.3,242.4 L356.8,243.8 L358.3,245.1 L359.8,246.5 L361.3,247.8 L362.8,249.2 L364.3,250.5 L365.8,251.8 L367.3,253.1 L368.8,254.4 L370.3,255.6 L371.8,256.9 L373.3,258.2 L374.8,259.4 L376.3,260.6 L377.8,261.8 L379.3,263.0 L380.8,264.2 L382.3,265.4 L383.8,266.5 L385.3,267.7 L386.8,268.8 L388.3,269.9 L389.8,271.1 L391.3,272.2 L392.8,273.3 L394.3,274.5 L395.8,275.6 L397.3,276.8 L398.8,277.9 L400.3,279.1 L401.8,280.2 L403.3,281.4 L404.8,282.5 L406.3,283.7 L407.8,284.9 L409.3,286.0 L410.8,287.2 L412.3,288.4 L413.8,289.5 L415.3,290.7 L416.8,291.9 L418.3,293.0 L419.8,294.2 L421.3,295.3 L422.8,296.5 L424.3,297.7 L425.8,298.8 L427.3,300.0 L428.8,301.1 L430.3,302.3 L431.8,303.4 L433.3,304.5 L434.8,305.7 L436.3,306.8 L437.8,307.9 L439.3,309.1 L440.8,310.2 L442.3,311.3 L443.8,312.4 L445.3,313.5 L446.8,314.6 L448.3,315.7 L449.8,316.8 L451.3,317.9 L452.8,318.9 L454.3,320.0 L455.8,321.1 L457.3,322.1 L458.8,323.1 L460.3,324.2 L461.8,325.2 L463.3,326.2 L464.8,327.3 L466.3,328.3 L467.8,329.3 L469.3,330.3 L470.8,331.3 L472.3,332.3 L473.8,333.4 L475.3,334.4 L476.8,335.4 L478.3,336.4 L479.8,337.4 L481.3,338.5 L482.8,339.5 L484.3,340.5 L485.8,341.5 L487.3,342.5 L488.8,343.5 L490.3,344.5 L491.8,345.5 L493.3,346.5 L494.8,347.5 L496.3,348.4 L497.8,349.4 L499.3,350.3 L500.8,351.2 L502.3,352.2 L503.8,353.1 L505.3,354.0 L506.8,354.9 L508.3,355.8 L509.8,356.7 L511.3,357.6 L512.8,358.5 L514.3,359.4 L515.8,360.3 L517.3,361.3 L518.8,362.2 L520.3,363.1 L521.8,364.1 L523.3,365.0 L524.8,366.0 L526.3,366.9 L527.8,367.9 L529.3,368.8 L530.8,369.7 L532.3,370.7 L533.8,371.6 L535.3,372.5 L536.8,373.5 L538.3,374.4 L539.8,375.3 L541.3,376.2 L542.8,377.1 L544.3,378.0 L545.8,378.9 L547.3,379.7 L548.8,380.6 L550.3,381.5 L551.8,382.4 L553.3,383.2 L554.8,384.1 L556.3,385.0 L557.8,385.8 L559.3,386.7 L560.8,387.6 L562.3,388.4 L563.8,389.3 L565.3,390.2 L566.8,391.0 L568.3,391.9 L569.8,392.7 L571.3,393.6 L572.8,394.4 L574.3,395.2 L575.8,396.0 L577.3,396.8 L578.8,397.6 L580.3,398.4 L581.8,399.2 L583.3,399.9 L584.8,400.7 L586.3,401.4 L587.8,402.2 L589.3,402.9 L590.8,403.6 L592.3,404.4 L593.8,405.1 L595.3,405.8 L596.8,406.5 L598.3,407.2 L599.8,408.0 L601.3,408.7 L602.8,409.4 L604.3,410.1 L605.8,410.8 L607.3,411.5 L608.8,412.2 L610.3,412.9 L611.8,413.6 L613.3,414.3 L614.8,415.0 L616.3,415.8 L617.8,416.5 L619.3,417.2 L620.8,417.9 L622.3,418.6 L623.8,419.4 L625.3,420.1 L626.8,420.8 L628.3,421.6 L629.8,422.3 L631.3,423.0 L632.8,423.8 L634.3,424.5 L635.8,425.3 L637.3,426.0 L638.8,426.8 L640.3,427.5 L641.8,428.3 L643.3,429.0 L644.8,429.8 L646.3,430.5 L647.8,431.2 L649.3,432.0 L650.8,432.7 L652.3,433.4 L653.8,434.2 L655.3,434.9 L656.8,435.6 L658.3,436.3 L659.8,437.1 L661.3,437.8 L662.8,438.5 L664.3,439.2 L665.8,439.9 L667.3,440.6 L668.8,441.3 L670.3,442.0 L671.8,442.7 L673.3,443.4 L674.8,444.1 L676.3,444.8 L677.8,445.5 L679.3,446.1 L680.8,446.8 L682.3,447.5 L683.8,448.2 L685.3,448.9 L686.8,449.6 L688.3,450.3 L689.8,451.0 L691.3,451.7 L692.8,452.4 L694.3,453.0 L695.8,453.7 L697.3,454.4 L698.8,455.1 L700.3,455.8 L701.8,456.5 L703.3,457.2 L704.8,457.9 L706.3,458.6 L707.8,459.2 L709.3,459.9 L710.7,460.6 L712.2,461.3 L713.7,461.9 L715.2,462.6 L716.7,463.3 L718.2,463.9 L719.7,464.6 L721.2,465.2 L722.7,465.9 L724.2,466.5 L725.7,467.2 L727.2,467.8 L728.7,468.4 L730.2,469.0 L731.7,469.6 L733.2,470.3 L734.7,470.9 L736.2,471.4 L737.7,472.0 L739.2,472.6 L740.7,473.2 L742.2,473.7 L743.7,474.3 L745.2,474.9 L746.7,475.4 L748.2,476.0 L749.7,476.5 L751.2,477.1 L752.7,477.6 L754.2,478.2 L755.7,478.7 L757.2,479.3 L758.7,479.8 L760.2,480.4 L761.7,480.9 L763.2,481.5 L764.7,482.0 L766.2,482.6 L767.7,483.1 L769.2,483.7 L770.7,484.2 L772.2,484.8 L773.7,485.3 L775.2,485.8 L776.7,486.4 L778.2,486.9 L779.7,487.5 L781.2,488.0 L782.7,488.5 L784.2,489.1 L785.7,489.6 L787.2,490.1 L788.7,490.7 L790.2,491.2 L791.7,491.7 L793.2,492.3 L794.7,492.8 L796.2,493.3 L797.7,493.8 L799.2,494.4 L800.7,494.9 L802.2,495.4 L803.7,496.0 L805.2,496.5 L806.7,497.0 L808.2,497.6 L809.7,498.1 L811.2,498.6 L812.7,499.1 L814.2,499.7 L815.7,500.2 L817.2,500.7 L818.7,501.2 L820.2,501.8 L821.7,502.3 L823.2,502.8 L824.7,503.3 L826.2,503.8 L827.7,504.3 L829.2,504.8 L830.7,505.4 L832.2,505.9 L833.7,506.4 L835.2,506.9 L836.7,507.4 L838.2,507.9 L839.7,508.4 L841.2,508.9 L842.7,509.4 L844.2,509.9 L845.7,510.4 L847.2,510.8 L848.7,511.3 L850.2,511.8 L851.7,512.3 L853.2,512.8 L854.7,513.2 L856.2,513.7 L857.7,514.2 L859.2,514.6 L860.7,515.1 L862.2,515.5 L863.7,516.0 L865.2,516.4 L866.7,516.8 L868.2,517.2 L869.7,517.7 L871.2,518.1 L872.7,518.5 L874.2,518.9 L875.7,519.3 L877.2,519.7 L878.7,520.1 L880.2,520.5 L881.7,520.9 L883.2,521.3 L884.7,521.7 L886.2,522.0 L887.7,522.4 L889.2,522.8" fill="none" stroke="#857c6c" stroke-width="6.3" stroke-linecap="round" stroke-linejoin="round" stroke-dasharray="0 12.17 12.17 12.17"/>
<path d="M174.2,0.0 L175.7,6.1 L177.2,11.8 L178.7,17.2 L180.2,22.2 L181.7,26.7 L183.2,30.5 L184.7,33.9 L186.2,37.1 L187.7,40.3 L189.2,43.5 L190.7,46.5 L192.2,49.5 L193.7,52.3 L195.2,55.0 L196.7,57.6 L198.2,60.2 L199.7,62.7 L201.2,65.2 L202.7,67.7 L204.2,70.0 L205.7,72.4 L207.2,74.7 L208.7,77.0 L210.2,79.3 L211.7,81.6 L213.2,83.8 L214.7,86.1 L216.2,88.3 L217.7,90.5 L219.2,92.7 L220.7,94.9 L222.2,97.0 L223.7,99.2 L225.1,101.3 L226.6,103.4 L228.1,105.4 L229.6,107.5 L231.1,109.6 L232.6,111.6 L234.1,113.6 L235.6,115.7 L237.1,117.7 L238.6,119.7 L240.1,121.8 L241.6,123.8 L243.1,125.9 L244.6,128.0 L246.1,130.0 L247.6,132.1 L249.1,134.2 L250.6,136.3 L252.1,138.4 L253.6,140.5 L255.1,142.6 L256.6,144.7 L258.1,146.8 L259.6,148.8 L261.1,150.8 L262.6,152.8 L264.1,154.8 L265.6,156.8 L267.1,158.7 L268.6,160.6 L270.1,162.4 L271.6,164.2 L273.1,166.0 L274.6,167.7 L276.1,169.3 L277.6,170.9 L279.1,172.5 L280.6,174.0 L282.1,175.4 L283.6,176.8 L285.1,178.2 L286.6,179.5 L288.1,180.8 L289.6,182.1 L291.1,183.4 L292.6,184.8 L294.1,186.1 L295.6,187.5 L297.1,188.9 L298.6,190.3 L300.1,191.8 L301.6,193.3 L303.1,194.8 L304.6,196.4 L306.1,197.9 L307.6,199.5 L309.1,201.0 L310.6,202.6 L312.1,204.2 L313.6,205.8 L315.1,207.3 L316.6,208.9 L318.1,210.4 L319.6,211.9 L321.1,213.5 L322.6,214.9 L324.1,216.4 L325.5,217.9 L327.0,219.3 L328.5,220.7 L330.0,222.1 L331.5,223.5 L333.0,224.8 L334.5,226.2 L336.0,227.5 L337.5,228.9 L339.0,230.2 L340.5,231.6 L342.0,233.0 L343.5,234.3 L345.0,235.7 L346.5,237.1 L348.0,238.5 L349.5,240.0 L351.0,241.4 L352.5,242.9 L354.0,244.4 L355.5,245.9 L357.0,247.5 L358.5,249.0 L360.0,250.6 L361.5,252.2 L363.0,253.7 L364.5,255.3 L366.0,256.9 L367.5,258.5 L369.0,260.1 L370.5,261.6 L372.0,263.2 L373.5,264.8 L375.0,266.3 L376.5,267.9 L378.0,269.4 L379.5,270.9 L381.0,272.4 L382.5,273.8 L384.0,275.3 L385.5,276.7 L387.0,278.1 L388.5,279.5 L390.0,280.9 L391.5,282.2 L393.0,283.5 L394.5,284.8 L396.0,286.1 L397.5,287.3 L399.0,288.6 L400.5,289.8 L402.0,291.0 L403.5,292.2 L405.0,293.3 L406.5,294.5 L408.0,295.7 L409.5,296.8 L411.0,297.9 L412.5,299.1 L414.0,300.2 L415.5,301.4 L417.0,302.5 L418.5,303.7 L420.0,304.8 L421.5,306.0 L423.0,307.1 L424.5,308.3 L426.0,309.5 L427.4,310.7 L428.9,311.8 L430.4,313.0 L431.9,314.2 L433.4,315.4 L434.9,316.6 L436.4,317.7 L437.9,318.9 L439.4,320.1 L440.9,321.2 L442.4,322.4 L443.9,323.5 L445.4,324.6 L446.9,325.8 L448.4,326.9 L449.9,328.0 L451.4,329.1 L452.9,330.2 L454.4,331.3 L455.9,332.4 L457.4,333.5 L458.9,334.6 L460.4,335.6 L461.9,336.7 L463.4,337.8 L464.9,338.9 L466.4,339.9 L467.9,341.0 L469.4,342.1 L470.9,343.2 L472.4,344.2 L473.9,345.3 L475.4,346.3 L476.9,347.3 L478.4,348.4 L479.9,349.4 L481.4,350.4 L482.9,351.4 L484.4,352.4 L485.9,353.3 L487.4,354.3 L488.9,355.3 L490.4,356.2 L491.9,357.2 L493.4,358.2 L494.9,359.1 L496.4,360.1 L497.9,361.0 L499.4,362.0 L500.9,362.9 L502.4,363.9 L503.9,364.8 L505.4,365.8 L506.9,366.7 L508.4,367.6 L509.9,368.6 L511.4,369.5 L512.9,370.5 L514.4,371.4 L515.9,372.4 L517.4,373.3 L518.9,374.3 L520.4,375.2 L521.9,376.1 L523.4,377.1 L524.9,378.0 L526.4,379.0 L527.8,379.9 L529.3,380.9 L530.8,381.9 L532.3,382.8 L533.8,383.8 L535.3,384.8 L536.8,385.7 L538.3,386.7 L539.8,387.7 L541.3,388.7 L542.8,389.6 L544.3,390.6 L545.8,391.6 L547.3,392.6 L548.8,393.6 L550.3,394.5 L551.8,395.5 L553.3,396.5 L554.8,397.4 L556.3,398.4 L557.8,399.4 L559.3,400.3 L560.8,401.3 L562.3,402.2 L563.8,403.1 L565.3,404.1 L566.8,405.0 L568.3,406.0 L569.8,406.9 L571.3,407.8 L572.8,408.7 L574.3,409.7 L575.8,410.6 L577.3,411.5 L578.8,412.4 L580.3,413.3 L581.8,414.2 L583.3,415.1 L584.8,415.9 L586.3,416.8 L587.8,417.7 L589.3,418.5 L590.8,419.4 L592.3,420.2 L593.8,421.0 L595.3,421.9 L596.8,422.7 L598.3,423.5 L599.8,424.4 L601.3,425.2 L602.8,426.0 L604.3,426.8 L605.8,427.6 L607.3,428.4 L608.8,429.2 L610.3,430.0 L611.8,430.8 L613.3,431.6 L614.8,432.4 L616.3,433.3 L617.8,434.1 L619.3,434.9 L620.8,435.7 L622.3,436.5 L623.8,437.3 L625.3,438.1 L626.8,438.9 L628.2,439.7 L629.7,440.5 L631.2,441.3 L632.7,442.1 L634.2,442.9 L635.7,443.7 L637.2,444.5 L638.7,445.4 L640.2,446.2 L641.7,447.0 L643.2,447.8 L644.7,448.6 L646.2,449.4 L647.7,450.3 L649.2,451.1 L650.7,451.9 L652.2,452.8 L653.7,453.6 L655.2,454.4 L656.7,455.2 L658.2,456.1 L659.7,456.9 L661.2,457.7 L662.7,458.6 L664.2,459.4 L665.7,460.3 L667.2,461.1 L668.7,461.9 L670.2,462.8 L671.7,463.6 L673.2,464.5 L674.7,465.3 L676.2,466.2 L677.7,467.0 L679.2,467.9 L680.7,468.7 L682.2,469.6 L683.7,470.4 L685.2,471.3 L686.7,472.2 L688.2,473.0 L689.7,473.9 L691.2,474.7 L692.7,475.6 L694.2,476.5 L695.7,477.3 L697.2,478.2 L698.7,479.1 L700.2,479.9 L701.7,480.8 L703.2,481.7 L704.7,482.6 L706.2,483.4 L707.7,484.3 L709.2,485.2 L710.7,486.1 L712.2,486.9 L713.7,487.8 L715.2,488.7 L716.7,489.5 L718.2,490.4 L719.7,491.3 L721.2,492.2 L722.7,493.0 L724.2,493.9 L725.7,494.8 L727.2,495.7 L728.7,496.5 L730.1,497.4 L731.6,498.3 L733.1,499.2 L734.6,500.1 L736.1,500.9 L737.6,501.8 L739.1,502.7 L740.6,503.6 L742.1,504.4 L743.6,505.3 L745.1,506.2 L746.6,507.1 L748.1,508.0 L749.6,508.9 L751.1,509.8 L752.6,510.6 L754.1,511.5 L755.6,512.4 L757.1,513.3 L758.6,514.2 L760.1,515.1 L761.6,516.0 L763.1,516.9 L764.6,517.8 L766.1,518.7 L767.6,519.6 L769.1,520.5 L770.6,521.5 L772.1,522.4 L773.6,523.3 L775.1,524.2 L776.6,525.1 L778.1,526.0 L779.6,526.9 L781.1,527.9 L782.6,528.8 L784.1,529.7 L785.6,530.6 L787.1,531.6 L788.6,532.5 L790.1,533.4 L791.6,534.3 L793.1,535.2 L794.6,536.2 L796.1,537.1 L797.6,538.0 L799.1,538.9 L800.6,539.9 L802.1,540.8 L803.6,541.7 L805.1,542.6 L806.6,543.6 L808.1,544.5 L809.6,545.4 L811.1,546.3 L812.6,547.3 L814.1,548.2 L815.6,549.1 L817.1,550.0 L818.6,551.0 L820.1,551.9 L821.6,552.8 L823.1,553.7 L824.6,554.7 L826.1,555.6 L827.6,556.5 L829.1,557.4 L830.5,558.4 L832.0,559.3 L833.5,560.2 L835.0,561.1 L836.5,562.0 L838.0,563.0 L839.5,563.9 L841.0,564.8 L842.5,565.7 L844.0,566.6 L845.5,567.6 L847.0,568.5 L848.5,569.4 L850.0,570.3 L851.5,571.2 L853.0,572.1 L854.5,573.1 L856.0,574.0 L857.5,574.9 L859.0,575.8 L860.5,576.7 L862.0,577.6 L863.5,578.5 L865.0,579.4 L866.5,580.3 L868.0,581.2 L869.5,582.2 L871.0,583.1 L872.5,584.0 L874.0,584.9 L875.5,585.8 L877.0,586.7 L878.5,587.6 L880.0,588.5" fill="none" stroke="#65306a" stroke-width="6.5" stroke-linecap="round" stroke-linejoin="round"/>
</g>
<g>
<line x1="194.2" y1="58.5" x2="194.2" y2="76.7" stroke="#65469b" stroke-width="2.6"/>
<circle cx="194.2" cy="67.6" r="8.75" fill="#fff" stroke="#65469b" stroke-width="2.5"/><circle cx="194.2" cy="67.6" r="4.6" fill="#65469b"/>
<line x1="208.8" y1="67.2" x2="208.8" y2="81.3" stroke="#65469b" stroke-width="2.6"/>
<circle cx="208.8" cy="74.2" r="8.75" fill="#fff" stroke="#65469b" stroke-width="2.5"/><circle cx="208.8" cy="74.2" r="4.6" fill="#65469b"/>
<line x1="227.7" y1="99.5" x2="227.7" y2="116.1" stroke="#65469b" stroke-width="2.6"/>
<circle cx="227.7" cy="107.8" r="8.75" fill="#fff" stroke="#65469b" stroke-width="2.5"/><circle cx="227.7" cy="107.8" r="4.6" fill="#65469b"/>
<line x1="242.3" y1="123.5" x2="242.3" y2="150.9" stroke="#65469b" stroke-width="2.6"/>
<circle cx="242.3" cy="137.2" r="8.75" fill="#fff" stroke="#65469b" stroke-width="2.5"/><circle cx="242.3" cy="137.2" r="4.6" fill="#65469b"/>
<line x1="256.3" y1="153.8" x2="256.3" y2="178.6" stroke="#65469b" stroke-width="2.6"/>
<circle cx="256.3" cy="166.2" r="8.75" fill="#fff" stroke="#65469b" stroke-width="2.5"/><circle cx="256.3" cy="166.2" r="4.6" fill="#65469b"/>
<line x1="261.7" y1="155.0" x2="261.7" y2="184.0" stroke="#65469b" stroke-width="2.6"/>
<circle cx="261.7" cy="169.5" r="8.75" fill="#fff" stroke="#65469b" stroke-width="2.5"/><circle cx="261.7" cy="169.5" r="4.6" fill="#65469b"/>
<line x1="290.3" y1="154.6" x2="290.3" y2="179.5" stroke="#65469b" stroke-width="2.6"/>
<circle cx="290.3" cy="167.0" r="8.75" fill="#fff" stroke="#65469b" stroke-width="2.5"/><circle cx="290.3" cy="167.0" r="4.6" fill="#65469b"/>
<line x1="314.6" y1="200.2" x2="314.6" y2="228.4" stroke="#65469b" stroke-width="2.6"/>
<circle cx="314.6" cy="214.3" r="8.75" fill="#fff" stroke="#65469b" stroke-width="2.5"/><circle cx="314.6" cy="214.3" r="4.6" fill="#65469b"/>
<line x1="338.9" y1="195.2" x2="338.9" y2="235.8" stroke="#65469b" stroke-width="2.6"/>
<circle cx="338.9" cy="215.5" r="8.75" fill="#fff" stroke="#65469b" stroke-width="2.5"/><circle cx="338.9" cy="215.5" r="4.6" fill="#65469b"/>
<line x1="340.3" y1="201.0" x2="340.3" y2="261.5" stroke="#1f6a9c" stroke-width="2.6"/>
<polygon points="340.3,219.9 351.7,231.3 340.3,242.7 328.9,231.3" fill="#fff" stroke="#1f6a9c" stroke-width="2.8" stroke-linejoin="miter"/><polygon points="340.3,225.1 346.5,231.3 340.3,237.5 334.1,231.3" fill="#1f6a9c"/>
<line x1="363.6" y1="245.0" x2="363.6" y2="290.5" stroke="#1f6a9c" stroke-width="2.6"/>
<polygon points="363.6,256.3 375.0,267.7 363.6,279.1 352.2,267.7" fill="#fff" stroke="#1f6a9c" stroke-width="2.8" stroke-linejoin="miter"/><polygon points="363.6,261.5 369.8,267.7 363.6,273.9 357.4,267.7" fill="#1f6a9c"/>
<line x1="401.0" y1="285.1" x2="401.0" y2="331.6" stroke="#1f6a9c" stroke-width="2.6"/>
<polygon points="401.0,297.0 412.4,308.4 401.0,319.8 389.6,308.4" fill="#fff" stroke="#1f6a9c" stroke-width="2.8" stroke-linejoin="miter"/><polygon points="401.0,302.2 407.2,308.4 401.0,314.6 394.8,308.4" fill="#1f6a9c"/>
<line x1="439.4" y1="313.7" x2="439.4" y2="391.7" stroke="#1f6a9c" stroke-width="2.6"/>
<polygon points="439.4,341.3 450.8,352.7 439.4,364.1 428.0,352.7" fill="#fff" stroke="#1f6a9c" stroke-width="2.8" stroke-linejoin="miter"/><polygon points="439.4,346.5 445.6,352.7 439.4,358.9 433.2,352.7" fill="#1f6a9c"/>
<line x1="194.2" y1="54.7" x2="194.2" y2="69.7" stroke="#38a3a5" stroke-width="2.6"/>
<rect x="185.8" y="53.8" width="16.8" height="16.8" fill="#fff" stroke="#38a3a5" stroke-width="2.4"/><rect x="190.0" y="58.1" width="8.3" height="8.3" fill="#38a3a5"/>
<line x1="208.8" y1="67.2" x2="208.8" y2="80.4" stroke="#38a3a5" stroke-width="2.6"/>
<rect x="200.4" y="65.4" width="16.8" height="16.8" fill="#fff" stroke="#38a3a5" stroke-width="2.4"/><rect x="204.6" y="69.7" width="8.3" height="8.3" fill="#38a3a5"/>
<line x1="227.7" y1="91.2" x2="227.7" y2="112.8" stroke="#38a3a5" stroke-width="2.6"/>
<rect x="219.3" y="93.6" width="16.8" height="16.8" fill="#fff" stroke="#38a3a5" stroke-width="2.4"/><rect x="223.5" y="97.8" width="8.3" height="8.3" fill="#38a3a5"/>
<line x1="242.3" y1="120.2" x2="242.3" y2="154.2" stroke="#38a3a5" stroke-width="2.6"/>
<rect x="233.9" y="128.8" width="16.8" height="16.8" fill="#fff" stroke="#38a3a5" stroke-width="2.4"/><rect x="238.1" y="133.1" width="8.3" height="8.3" fill="#38a3a5"/>
<line x1="256.3" y1="122.3" x2="256.3" y2="159.6" stroke="#38a3a5" stroke-width="2.6"/>
<rect x="247.9" y="132.5" width="16.8" height="16.8" fill="#fff" stroke="#38a3a5" stroke-width="2.4"/><rect x="252.2" y="136.8" width="8.3" height="8.3" fill="#38a3a5"/>
<line x1="261.7" y1="127.7" x2="261.7" y2="164.1" stroke="#38a3a5" stroke-width="2.6"/>
<rect x="253.3" y="137.5" width="16.8" height="16.8" fill="#fff" stroke="#38a3a5" stroke-width="2.4"/><rect x="257.5" y="141.8" width="8.3" height="8.3" fill="#38a3a5"/>
<line x1="273.8" y1="137.2" x2="273.8" y2="179.5" stroke="#38a3a5" stroke-width="2.6"/>
<rect x="265.4" y="149.9" width="16.8" height="16.8" fill="#fff" stroke="#38a3a5" stroke-width="2.4"/><rect x="269.7" y="154.2" width="8.3" height="8.3" fill="#38a3a5"/>
<line x1="290.3" y1="159.2" x2="290.3" y2="194.0" stroke="#38a3a5" stroke-width="2.6"/>
<rect x="281.9" y="168.2" width="16.8" height="16.8" fill="#fff" stroke="#38a3a5" stroke-width="2.4"/><rect x="286.2" y="172.4" width="8.3" height="8.3" fill="#38a3a5"/>
<line x1="314.6" y1="197.3" x2="314.6" y2="228.8" stroke="#38a3a5" stroke-width="2.6"/>
<rect x="306.2" y="204.6" width="16.8" height="16.8" fill="#fff" stroke="#38a3a5" stroke-width="2.4"/><rect x="310.4" y="208.9" width="8.3" height="8.3" fill="#38a3a5"/>
<line x1="338.9" y1="198.5" x2="338.9" y2="235.0" stroke="#38a3a5" stroke-width="2.6"/>
<rect x="330.5" y="208.4" width="16.8" height="16.8" fill="#fff" stroke="#38a3a5" stroke-width="2.4"/><rect x="334.7" y="212.6" width="8.3" height="8.3" fill="#38a3a5"/>
<line x1="363.6" y1="230.9" x2="363.6" y2="276.4" stroke="#128a5c" stroke-width="2.6"/>
<polygon points="363.63,243.84 372.13,258.56 355.13,258.56" fill="#fff" stroke="#128a5c" stroke-width="2.8" stroke-linejoin="miter"/><polygon points="363.63,248.69 367.93,256.14 359.33,256.14" fill="#128a5c"/>
<line x1="401.0" y1="259.5" x2="401.0" y2="303.4" stroke="#128a5c" stroke-width="2.6"/>
<polygon points="401.01,271.61 409.51,286.33 392.51,286.33" fill="#fff" stroke="#128a5c" stroke-width="2.8" stroke-linejoin="miter"/><polygon points="401.01,276.45 405.31,283.90 396.71,283.90" fill="#128a5c"/>
<line x1="439.4" y1="285.1" x2="439.4" y2="357.3" stroke="#128a5c" stroke-width="2.6"/>
<polygon points="439.37,311.39 447.87,326.11 430.87,326.11" fill="#fff" stroke="#128a5c" stroke-width="2.8" stroke-linejoin="miter"/><polygon points="439.37,316.24 443.67,323.69 435.07,323.69" fill="#128a5c"/>
<line x1="421.4" y1="259.5" x2="421.4" y2="315.0" stroke="#72b245" stroke-width="2.6"/>
<polygon points="421.40,297.04 429.90,282.31 412.90,282.31" fill="#fff" stroke="#72b245" stroke-width="2.8" stroke-linejoin="miter"/><polygon points="421.40,292.19 425.70,284.74 417.10,284.74" fill="#72b245"/>
<line x1="495.7" y1="289.9" x2="495.7" y2="377.4" stroke="#72b245" stroke-width="2.6"/>
<polygon points="495.68,343.45 504.18,328.73 487.18,328.73" fill="#fff" stroke="#72b245" stroke-width="2.8" stroke-linejoin="miter"/><polygon points="495.68,338.60 499.98,331.15 491.38,331.15" fill="#72b245"/>
<line x1="582.6" y1="338.6" x2="582.6" y2="486.1" stroke="#72b245" stroke-width="2.6"/>
<polygon points="582.59,422.19 591.09,407.46 574.09,407.46" fill="#fff" stroke="#72b245" stroke-width="2.8" stroke-linejoin="miter"/><polygon points="582.59,417.34 586.89,409.89 578.29,409.89" fill="#72b245"/>
</g>
<line x1="143.6" y1="467.9" x2="889.2" y2="467.9" stroke="#000" stroke-opacity="0.25" stroke-width="1.75"/>
<rect x="143.6" y="12.1" width="745.6" height="559.5" fill="none" stroke="#000" stroke-width="1.35"/>
<path d="M146.12,571.6v-3.8M146.12,12.1v3.8M170.40,571.6v-6.6M170.40,12.1v6.6M194.68,571.6v-3.8M194.68,12.1v3.8M218.95,571.6v-3.8M218.95,12.1v3.8M243.22,571.6v-3.8M243.22,12.1v3.8M267.50,571.6v-6.6M267.50,12.1v6.6M291.77,571.6v-3.8M291.77,12.1v3.8M316.05,571.6v-3.8M316.05,12.1v3.8M340.32,571.6v-3.8M340.32,12.1v3.8M364.60,571.6v-6.6M364.60,12.1v6.6M388.88,571.6v-3.8M388.88,12.1v3.8M413.15,571.6v-3.8M413.15,12.1v3.8M437.42,571.6v-3.8M437.42,12.1v3.8M461.70,571.6v-6.6M461.70,12.1v6.6M485.98,571.6v-3.8M485.98,12.1v3.8M510.25,571.6v-3.8M510.25,12.1v3.8M534.52,571.6v-3.8M534.52,12.1v3.8M558.80,571.6v-6.6M558.80,12.1v6.6M583.07,571.6v-3.8M583.07,12.1v3.8M607.35,571.6v-3.8M607.35,12.1v3.8M631.62,571.6v-3.8M631.62,12.1v3.8M655.90,571.6v-6.6M655.90,12.1v6.6M680.17,571.6v-3.8M680.17,12.1v3.8M704.45,571.6v-3.8M704.45,12.1v3.8M728.72,571.6v-3.8M728.72,12.1v3.8M753.00,571.6v-6.6M753.00,12.1v6.6M777.27,571.6v-3.8M777.27,12.1v3.8M801.55,571.6v-3.8M801.55,12.1v3.8M825.82,571.6v-3.8M825.82,12.1v3.8M850.10,571.6v-6.6M850.10,12.1v6.6M874.37,571.6v-3.8M874.37,12.1v3.8M143.6,550.78h6.6M889.2,550.78h-6.6M143.6,530.06h3.8M889.2,530.06h-3.8M143.6,509.34h3.8M889.2,509.34h-3.8M143.6,488.62h3.8M889.2,488.62h-3.8M143.6,467.90h6.6M889.2,467.90h-6.6M143.6,447.18h3.8M889.2,447.18h-3.8M143.6,426.46h3.8M889.2,426.46h-3.8M143.6,405.74h3.8M889.2,405.74h-3.8M143.6,385.02h6.6M889.2,385.02h-6.6M143.6,364.30h3.8M889.2,364.30h-3.8M143.6,343.58h3.8M889.2,343.58h-3.8M143.6,322.86h3.8M889.2,322.86h-3.8M143.6,302.14h6.6M889.2,302.14h-6.6M143.6,281.42h3.8M889.2,281.42h-3.8M143.6,260.70h3.8M889.2,260.70h-3.8M143.6,239.98h3.8M889.2,239.98h-3.8M143.6,219.26h6.6M889.2,219.26h-6.6M143.6,198.54h3.8M889.2,198.54h-3.8M143.6,177.82h3.8M889.2,177.82h-3.8M143.6,157.10h3.8M889.2,157.10h-3.8M143.6,136.38h6.6M889.2,136.38h-6.6M143.6,115.66h3.8M889.2,115.66h-3.8M143.6,94.94h3.8M889.2,94.94h-3.8M143.6,74.22h3.8M889.2,74.22h-3.8M143.6,53.50h6.6M889.2,53.50h-6.6M143.6,32.78h3.8M889.2,32.78h-3.8" stroke="#000" stroke-width="1.3" fill="none"/>
<g font-size="28.4">
<text x="170.4" y="600.7" text-anchor="middle">0</text>
<text x="267.5" y="600.7" text-anchor="middle">2</text>
<text x="364.6" y="600.7" text-anchor="middle">4</text>
<text x="461.7" y="600.7" text-anchor="middle">6</text>
<text x="558.8" y="600.7" text-anchor="middle">8</text>
<text x="655.9" y="600.7" text-anchor="middle">10</text>
<text x="753.0" y="600.7" text-anchor="middle">12</text>
<text x="850.1" y="600.7" text-anchor="middle">14</text>
<text x="136.4" y="558.6" text-anchor="end" letter-spacing="0.45">0.2</text>
<text x="136.4" y="475.7" text-anchor="end" letter-spacing="0.45">0.0</text>
<text x="136.4" y="392.8" text-anchor="end" letter-spacing="0.45">0.2</text>
<text x="136.4" y="309.9" text-anchor="end" letter-spacing="0.45">0.4</text>
<text x="136.4" y="227.1" text-anchor="end" letter-spacing="0.45">0.6</text>
<text x="136.4" y="144.2" text-anchor="end" letter-spacing="0.45">0.8</text>
<text x="136.4" y="61.3" text-anchor="end" letter-spacing="0.45">1.0</text>
<rect x="78.9" y="550.03" width="14.1" height="2.5" fill="#000"/>
</g>
<g id="xlabel">
<text x="449.85" y="654.6" font-size="34" font-style="italic">Q</text>
<text x="479.65" y="638.8" font-size="23.4">2</text>
<text x="494.15" y="654.6" font-size="34">/</text>
<text x="503.5" y="654.6" font-size="34">G</text>
<text x="528.4" y="654.6" font-size="34">e</text>
<text x="546.65" y="654.6" font-size="34">V</text>
<text x="570.7" y="638.8" font-size="23.4">2</text>
</g>
<g id="ylabel" transform="translate(53.4,428.1) rotate(-90)">
<text x="1.4" y="0" font-size="34" font-style="italic">μ</text>
<text x="20.65" y="6.3" font-size="23.4" font-style="italic">p</text>
<text x="37.65" y="0" font-size="34" font-style="italic">G</text>
<text x="62.65" y="7.2" font-size="23.4" font-style="italic">E</text>
<text x="68.3" y="-19.8" font-size="23.4" font-style="italic">p</text>
<text x="82.35" y="-0.8" font-size="34">(</text>
<text x="97.85" y="0" font-size="34" font-style="italic">Q</text>
<text x="124.4" y="-16.1" font-size="23.4">2</text>
<text x="136.35" y="-0.8" font-size="34">)</text>
<text x="149.3" y="0" font-size="34">/</text>
<text x="160.2" y="0" font-size="34" font-style="italic">G</text>
<text x="184.4" y="7.2" font-size="23.4" font-style="italic">M</text>
<text x="191.2" y="-19.7" font-size="23.4" font-style="italic">p</text>
<text x="207.65" y="-0.8" font-size="34">(</text>
<text x="221.45" y="0" font-size="34" font-style="italic">Q</text>
<text x="248.35" y="-16.1" font-size="23.4">2</text>
<text x="262.7" y="-0.8" font-size="34">)</text>
</g>
<g font-size="28.8">
<text x="642.0" y="58.4" textLength="81.0" lengthAdjust="spacingAndGlyphs">Jones</text>
<text x="641.7" y="95.1" textLength="88.3" lengthAdjust="spacingAndGlyphs">Gayou</text>
<text x="642.6" y="131.7" textLength="100.2" lengthAdjust="spacingAndGlyphs">Punjabi</text>
<text x="642.5" y="168.4" textLength="194.0" lengthAdjust="spacingAndGlyphs">Puckett (2010)</text>
<text x="642.5" y="204.8" textLength="194.0" lengthAdjust="spacingAndGlyphs">Puckett (2011)</text>
<circle cx="601.8" cy="48.5" r="9.4" fill="#fff" stroke="#65469b" stroke-width="2.6"/><circle cx="601.8" cy="48.5" r="4.8" fill="#65469b"/>
<polygon points="601.8,73.8 613.2,85.3 601.8,96.8 590.3,85.3" fill="#fff" stroke="#1f6a9c" stroke-width="2.8" stroke-linejoin="miter"/><polygon points="601.8,79.1 608.0,85.3 601.8,91.5 595.6,85.3" fill="#1f6a9c"/>
<rect x="593.3" y="113.4" width="17.0" height="17.0" fill="#fff" stroke="#38a3a5" stroke-width="2.4"/><rect x="597.5" y="117.6" width="8.6" height="8.6" fill="#38a3a5"/>
<polygon points="601.80,148.70 610.55,163.85 593.05,163.85" fill="#fff" stroke="#128a5c" stroke-width="2.8" stroke-linejoin="miter"/><polygon points="601.80,153.83 606.10,161.28 597.50,161.28" fill="#128a5c"/>
<polygon points="601.80,205.30 610.55,190.15 593.05,190.15" fill="#fff" stroke="#72b245" stroke-width="2.8" stroke-linejoin="miter"/><polygon points="601.80,200.17 606.10,192.72 597.50,192.72" fill="#72b245"/>
</g>
<g font-size="28.8">
<rect x="192.0" y="308.6" width="71.7" height="24.3" fill="#65306a" fill-opacity="0.3"/>
<line x1="195.6" y1="320.8" x2="260.09999999999997" y2="320.8" stroke="#65306a" stroke-width="6.2" stroke-linecap="round"/>
<rect x="192.0" y="343.5" width="71.7" height="27.0" fill="#f0900a" fill-opacity="0.3"/>
<line x1="195.6" y1="357.0" x2="260.09999999999997" y2="357.0" stroke="#f0900a" stroke-width="6.0" stroke-linecap="round" stroke-dasharray="11.85 11.85"/>
<rect x="192.0" y="380.5" width="71.7" height="27.4" fill="#ba001f" fill-opacity="0.3"/>
<line x1="195.6" y1="394.2" x2="260.09999999999997" y2="394.2" stroke="#ba001f" stroke-width="6.8" stroke-linecap="round" stroke-dasharray="0 12.58"/>
<rect x="192.0" y="416.7" width="71.7" height="28.4" fill="#857c6c" fill-opacity="0.3"/>
<line x1="195.6" y1="430.9" x2="260.09999999999997" y2="430.9" stroke="#857c6c" stroke-width="6.3" stroke-linecap="round" stroke-dasharray="0 12.33 12.33 12.33"/>
<text x="269.6" y="330.0" textLength="66.6" lengthAdjust="spacingAndGlyphs">SPM</text>
<text x="270.8" y="367.2" textLength="50.6" lengthAdjust="spacingAndGlyphs">Fad</text>
<rect x="323.2" y="359.6" width="13.8" height="2.4" fill="#000"/>
<text x="339.8" y="367.2">I</text>
<text x="270.8" y="403.8" textLength="50.6" lengthAdjust="spacingAndGlyphs">Fad</text>
<rect x="323.2" y="396.2" width="13.8" height="2.4" fill="#000"/>
<text x="339.8" y="403.8">I</text>
<text x="348.7" y="403.8">I</text>
<text x="272.0" y="440.0" textLength="36.0" lengthAdjust="spacingAndGlyphs">Ye</text>
</g>
</svg></body></html>
